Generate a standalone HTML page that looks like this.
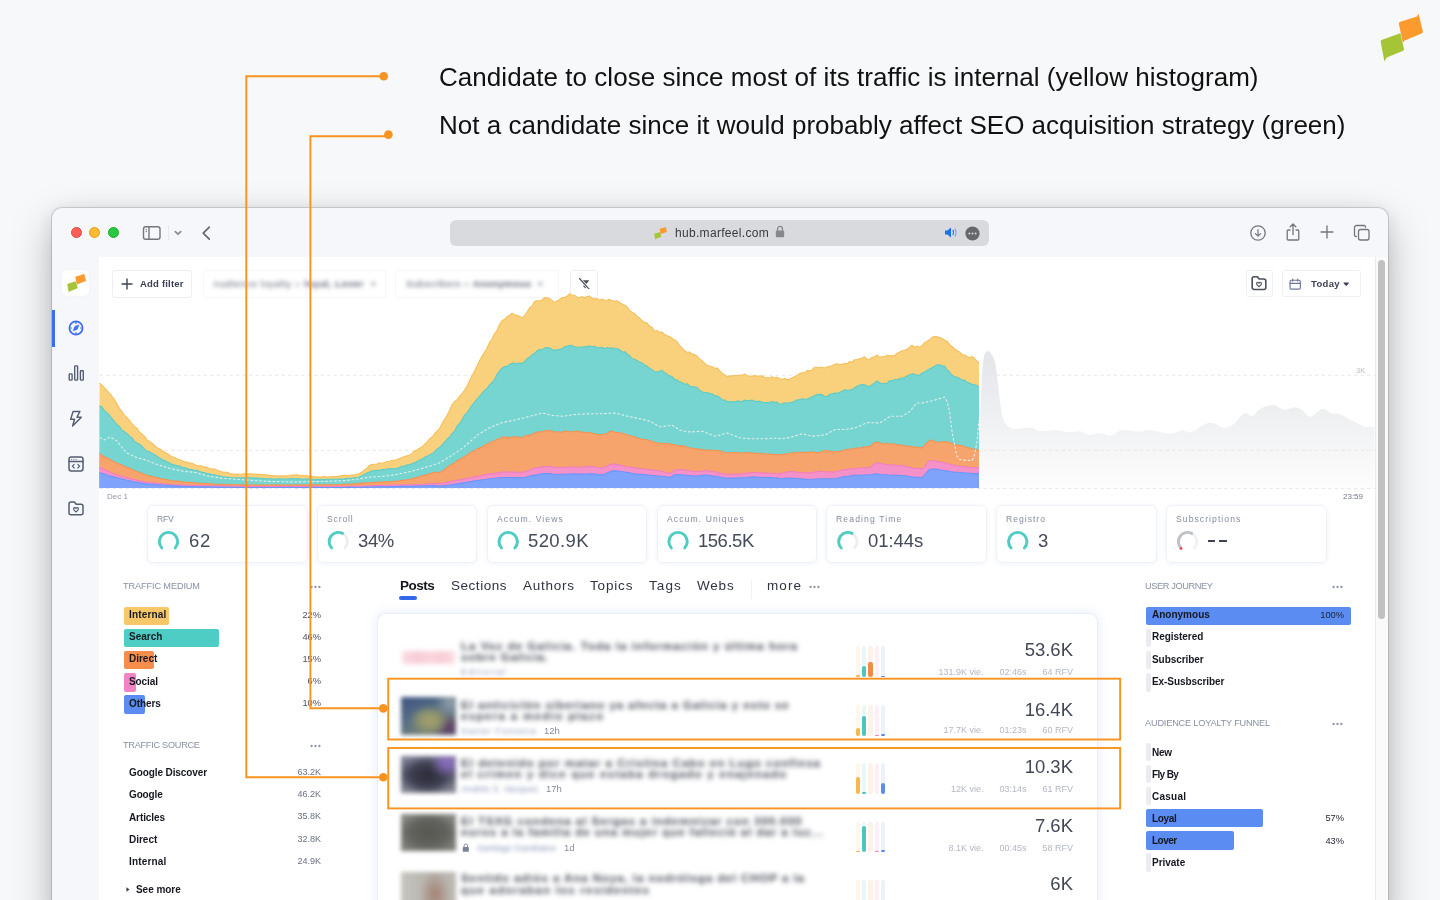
<!DOCTYPE html>
<html><head><meta charset="utf-8"><title>Marfeel</title>
<style>
*{box-sizing:border-box;margin:0;padding:0}
html,body{width:1440px;height:900px;overflow:hidden}
body{background:#f7f8fa;font-family:"Liberation Sans",sans-serif;position:relative;color:#222}
.abs{position:absolute}
.t{position:absolute;white-space:nowrap;line-height:1;will-change:transform}
.h1{font-size:26px;color:#111}
.win{position:absolute;left:52px;top:208px;width:1336px;height:720px;background:#f6f7fb;border-radius:10px 10px 0 0;box-shadow:0 0 0 1px rgba(0,0,0,.13),0 16px 42px rgba(0,0,0,.26),0 2px 16px rgba(0,0,0,.09)}
.content{position:absolute;left:99px;top:257px;width:1276px;height:660px;background:#fff;border-radius:1.5px 0 0 0}
.btn{position:absolute;background:#fff;border:1px solid #eceef2;border-radius:2.5px}
.lbl{font-size:9.2px;color:#8790a4}
.b{font-weight:bold}
.card{position:absolute;top:505px;width:160.5px;height:57.5px;background:#fff;border:1px solid #eff1f8;border-radius:6px;box-shadow:0 1px 5px rgba(120,140,210,.10)}
.kl{position:absolute;left:10px;top:9px;font-size:9px;color:#858ca0;line-height:1;white-space:nowrap}
.kv{position:absolute;left:42px;top:26px;font-size:19px;color:#3c4152;line-height:1;white-space:nowrap}
.bar{position:absolute;border-radius:2px}
.rowl{font-size:10px;font-weight:bold;color:#161820}
.rowv{font-size:9px;color:#5d6475;text-align:right}
.blur{filter:blur(2.6px);color:#434753;font-size:11.5px;font-weight:bold}
.blur2{filter:blur(2.2px);color:#8e9aba;font-size:9px}
.big{font-size:18.5px;color:#434857;text-align:right}
.sub{font-size:9px;color:#b3b7c3}
.obox{position:absolute;border:2px solid #f7931e}
</style></head><body>
<div id="f1" class="t h1" style="left:439px;top:63.6px;;letter-spacing:0.048px">Candidate to close since most of its traffic is internal (yellow histogram)</div><div id="f2" class="t h1" style="left:439px;top:111.8px;;letter-spacing:0.010px">Not a candidate since it would probably affect SEO acquisition strategy (green)</div><svg class="abs" style="left:1370px;top:5px" width="60" height="65" viewBox="0 0 831 900"><path d="M400,262 Q398,240 420,232 L650,160 L672,120 L732,365 Q735,385 715,395 L480,490 L455,522Z" fill="#fb9a2d"/><path d="M148,512 Q145,490 168,482 L420,392 L470,605 Q474,628 452,638 L232,728 L200,782Z" fill="#a6c536"/></svg><div class="win"></div><div class="abs" style="left:70.5px;top:227.3px;width:11px;height:11px;border-radius:50%;background:#fe5f57;border:.5px solid #e2463f"></div><div class="abs" style="left:89.0px;top:227.3px;width:11px;height:11px;border-radius:50%;background:#febc2e;border:.5px solid #dfa023"></div><div class="abs" style="left:107.5px;top:227.3px;width:11px;height:11px;border-radius:50%;background:#28c840;border:.5px solid #1eab30"></div><svg class="abs" style="left:142.2px;top:224.7px" width="20" height="16" viewBox="0 0 20 16" fill="none" stroke="#75777e" stroke-width="1.4"><rect x="1.5" y="1.75" width="16.5" height="12.5" rx="2.2"/><path d="M7,1.75V14.25"/><path d="M3.6,4.6H5M3.6,6.6H5" stroke-width="1"/></svg><div class="abs" style="left:167.5px;top:225px;width:1px;height:15px;background:#e9eaee"></div><svg class="abs" style="left:173px;top:229px" width="10" height="8" viewBox="0 0 10 8" fill="none" stroke="#85878e" stroke-width="1.6" stroke-linecap="round" stroke-linejoin="round"><path d="M2.3,2.6 L5,5.1 L7.7,2.6"/></svg><svg class="abs" style="left:200px;top:224px" width="12" height="18" viewBox="0 0 12 18" fill="none" stroke="#66686f" stroke-width="1.7" stroke-linecap="round" stroke-linejoin="round"><path d="M9.3,3.2 L3.2,9.2 L9.3,15.2"/></svg><div class="abs" style="left:450px;top:220px;width:539px;height:26px;border-radius:6px;background:#d9dadd"></div><svg class="abs" style="left:654px;top:226.5px" width="13" height="13" viewBox="140 150 600 640" preserveAspectRatio="none"><path d="M400,262 Q398,240 420,232 L650,160 L672,120 L732,365 Q735,385 715,395 L480,490 L455,522Z" fill="#fb9a2d"/><path d="M148,512 Q145,490 168,482 L420,392 L470,605 Q474,628 452,638 L232,728 L200,782Z" fill="#a6c536"/></svg><div id="f3" class="t " style="left:674.8px;top:226.8px;font-size:12px;color:#3a3b3f;letter-spacing:0.312px">hub.marfeel.com</div><svg class="abs" style="left:775px;top:225px" width="10" height="13" viewBox="0 0 10 13"><rect x="0.8" y="5.4" width="8.4" height="6.8" rx="1.2" fill="#86888d"/><path d="M2.6,6V3.8a2.4,2.4 0 0 1 4.8,0V6" fill="none" stroke="#86888d" stroke-width="1.3"/></svg><svg class="abs" style="left:944px;top:226px" width="15" height="13" viewBox="0 0 15 13"><path d="M1,4.6h2.4L7,1.6v9.8L3.4,8.4H1z" fill="#1a73e8"/><path d="M9,4.4q1.3,2.1 0,4.2" stroke="#1a73e8" stroke-width="1.2" fill="none" stroke-linecap="round"/><path d="M11,2.9q2.2,3.6 0,7.2" stroke="#6aa5f2" stroke-width="1.1" fill="none" stroke-linecap="round"/></svg><svg class="abs" style="left:964.5px;top:225.5px" width="15" height="15" viewBox="0 0 15 15"><circle cx="7.5" cy="7.5" r="7.1" fill="#66686d"/><circle cx="4.4" cy="7.5" r="1" fill="#d9dadd"/><circle cx="7.5" cy="7.5" r="1" fill="#d9dadd"/><circle cx="10.6" cy="7.5" r="1" fill="#d9dadd"/></svg><svg class="abs" style="left:1249.3px;top:223.6px" width="18" height="18" viewBox="0 0 18 18" fill="none" stroke="#73757c" stroke-width="1.3" stroke-linecap="round" stroke-linejoin="round"><circle cx="9" cy="9" r="7.2"/><path d="M9,5.6v6.4M6.4,9.6l2.6,2.6 2.6,-2.6" stroke-width="1.2"/></svg><svg class="abs" style="left:1284px;top:221.5px" width="18" height="20" viewBox="0 0 18 20" fill="none" stroke="#73757c" stroke-width="1.3" stroke-linecap="round" stroke-linejoin="round"><path d="M6,8H4.2a1,1 0 0 0 -1,1v8a1,1 0 0 0 1,1h9.6a1,1 0 0 0 1,-1V9a1,1 0 0 0 -1,-1H12"/><path d="M9,12.5V2.2M6.2,4.8L9,2l2.8,2.8"/></svg><svg class="abs" style="left:1319px;top:224.4px" width="16" height="16" viewBox="0 0 16 16" fill="none" stroke="#73757c" stroke-width="1.3" stroke-linecap="round" stroke-linejoin="round"><path d="M8,2v12M2,8h12"/></svg><svg class="abs" style="left:1353px;top:223.5px" width="18" height="18" viewBox="0 0 18 18" fill="none" stroke="#73757c" stroke-width="1.3" stroke-linecap="round" stroke-linejoin="round"><rect x="5.5" y="5.5" width="10.5" height="10.5" rx="2"/><path d="M12.5,3.2V3a1.5,1.5 0 0 0 -1.5,-1.5H3.5A2,2 0 0 0 1.5,3.5V11A1.5,1.5 0 0 0 3,12.5h.3"/></svg><div class="content"></div><div class="abs" style="left:1375px;top:257px;width:13px;height:660px;background:#fafafa;border-left:1px solid #ebebeb"></div><div class="abs" style="left:1378px;top:259.6px;width:7px;height:359px;border-radius:3.5px;background:#c1c1c1"></div><div class="abs" style="left:62px;top:270px;width:27px;height:26px;border-radius:5px;background:#fff;box-shadow:0 0 3px rgba(0,0,0,.04)"></div><svg class="abs" style="left:66.6px;top:274px" width="19.2" height="19" viewBox="140 150 600 640" preserveAspectRatio="none"><path d="M400,262 Q398,240 420,232 L650,160 L672,120 L732,365 Q735,385 715,395 L480,490 L455,522Z" fill="#fb9a2d"/><path d="M148,512 Q145,490 168,482 L420,392 L470,605 Q474,628 452,638 L232,728 L200,782Z" fill="#a6c536"/></svg><div class="abs" style="left:52px;top:310px;width:3px;height:37px;background:#3b6cf6"></div><svg class="abs" style="left:67px;top:319.3px" width="18" height="18" viewBox="0 0 18 18" fill="none" stroke="#3b6cf6" stroke-width="1.7" stroke-linecap="round" stroke-linejoin="round"><circle cx="9" cy="9" r="6.6"/><path d="M9,3.2v1.2M9,13.6v1.2M3.2,9h1.2M13.6,9h1.2" stroke-width="1.2"/><path d="M11.7,6.3 L10.2,10.2 L6.3,11.7 L7.8,7.8Z" fill="#3b6cf6" stroke-width=".8"/></svg><svg class="abs" style="left:67px;top:364px" width="18" height="20" viewBox="0 0 18 20" fill="none" stroke="#525c70" stroke-width="1.35" stroke-linejoin="round"><rect x="2.2" y="9.8" width="2.9" height="6.3" rx=".7"/><rect x="7.7" y="1.9" width="2.9" height="14.2" rx=".7"/><rect x="13.4" y="6.7" width="2.9" height="9.4" rx=".7"/></svg><svg class="abs" style="left:67px;top:408.8px" width="18" height="19.4" viewBox="0 0 18 20" fill="none" stroke="#545e73" stroke-width="1.5" stroke-linecap="round" stroke-linejoin="round"><path d="M6,2.5 H13 L10,8.5 H14.5 L5.5,17.5 L7.5,10.5 H3.5Z"/></svg><svg class="abs" style="left:67px;top:454.6px" width="18" height="18" viewBox="0 0 18 18" fill="none" stroke="#545e73" stroke-width="1.5" stroke-linecap="round" stroke-linejoin="round"><rect x="2" y="2" width="14" height="14" rx="2.2"/><path d="M2,6.4H16"/><path d="M7.2,9.4 L5.4,11.2 L7.2,13 M10.8,9.4 L12.6,11.2 L10.8,13" stroke-width="1.2"/><path d="M4.6,4.3h.1M6.8,4.3h.1M9,4.3h.1" stroke-width="1.1"/></svg><svg class="abs" style="left:67px;top:498.8px" width="18" height="18.6" viewBox="0 0 18 18" fill="none" stroke="#545e73" stroke-width="1.5" stroke-linecap="round" stroke-linejoin="round"><path d="M2,5V13.5a2,2 0 0 0 2,2h10a2,2 0 0 0 2,-2V7a2,2 0 0 0 -2,-2H9.2L7.4,2.8H4a2,2 0 0 0 -2,2z"/><path d="M9,12.7 C7.2,11.3 6.6,10.5 6.6,9.7 a1.2,1.2 0 0 1 2.4,-.4 a1.2,1.2 0 0 1 2.4,.4 C11.4,10.5 10.8,11.3 9,12.7Z" stroke-width="1.15"/></svg><div class="btn" style="left:112px;top:270px;width:79.5px;height:27.5px;border-color:#eceef2;border-radius:2.5px"></div><svg class="abs" style="left:121px;top:278px" width="12" height="12" viewBox="0 0 12 12" stroke="#3d4354" stroke-width="1.4" stroke-linecap="round"><path d="M6,1v10M1,6h10"/></svg><div id="f4" class="t " style="left:139.5px;top:278.8px;font-size:9.5px;color:#3a4050;font-weight:bold;letter-spacing:0.200px">Add filter</div><div class="btn" style="left:203px;top:270px;width:183px;height:27.5px;border-color:#f5f6f9"></div><div id="f5" class="t " style="left:212.5px;top:279px;font-size:9.5px;color:#555c6e;filter:blur(2.1px);letter-spacing:0.586px">Audience loyalty = <b>loyal, Lover</b> &nbsp;&#215;</div><div class="btn" style="left:395px;top:270px;width:164px;height:27.5px;border-color:#f5f6f9"></div><div id="f6" class="t " style="left:406px;top:279px;font-size:9.5px;color:#555c6e;filter:blur(2.1px);letter-spacing:0.411px">Subscribers = <b>Anonymous</b> &nbsp;&#215;</div><div class="btn" style="left:570px;top:270px;width:27.5px;height:27.5px;border-color:#eff0f4"></div><svg class="abs" style="left:579px;top:277.6px" width="11.2" height="11.6" viewBox="0 0 11 11.4"><path d="M.8,2.2H10.2L6.9,6.2V10.4L4.5,8.8V6.2Z" fill="#4a4e58"/><path d="M.2,0 L10.2,11.2" stroke="#fff" stroke-width="2.6"/><path d="M.5,.5 L10,10.9" stroke="#4a4e58" stroke-width="1.15" stroke-linecap="round"/></svg><div class="btn" style="left:1245.5px;top:270px;width:27px;height:27px;border-color:#eff0f4"></div><svg class="abs" style="left:1249.5px;top:274.2px" width="18" height="18" viewBox="0 0 18 18" fill="none" stroke="#4a4f5c" stroke-width="1.6" stroke-linecap="round" stroke-linejoin="round"><path d="M2.2,5V13.5a2,2 0 0 0 2,2h9.6a2,2 0 0 0 2,-2V7a2,2 0 0 0 -2,-2H9.2L7.4,2.8H4.2a2,2 0 0 0 -2,2z"/><path d="M9,12.7 C7.2,11.3 6.6,10.5 6.6,9.7 a1.2,1.2 0 0 1 2.4,-.4 a1.2,1.2 0 0 1 2.4,.4 C11.4,10.5 10.8,11.3 9,12.7Z" stroke-width="1.15"/></svg><div class="btn" style="left:1281.5px;top:270px;width:79px;height:27px;border-color:#eff0f4"></div><svg class="abs" style="left:1289.2px;top:277.6px" width="12.4" height="12.4" viewBox="0 0 12 12" fill="none" stroke="#6b7796" stroke-width="1.1" stroke-linecap="round"><rect x="1" y="2.2" width="10" height="8.6" rx="1.4"/><path d="M1,5.2h10M3.6,1v2M8.4,1v2"/></svg><div id="f7" class="t " style="left:1310.6px;top:278.8px;font-size:9.5px;color:#3d4252;font-weight:bold;letter-spacing:0.331px">Today</div><svg class="abs" style="left:1342.6px;top:281.6px" width="6.4" height="4.4" viewBox="0 0 7 5"><path d="M.9,.6h5.2a.5,.5 0 0 1 .4,.8L3.9,4.3a.5,.5 0 0 1 -.8,0L.5,1.4a.5,.5 0 0 1 .4,-.8Z" fill="#3d4252"/></svg><svg class="abs" style="left:0;top:0" width="1440" height="900" viewBox="0 0 1440 900"><defs><linearGradient id="gg" x1="0" y1="350" x2="0" y2="488" gradientUnits="userSpaceOnUse"><stop offset="0" stop-color="#e4e5e8"/><stop offset=".45" stop-color="#eeeff1"/><stop offset="1" stop-color="#fdfdfd"/></linearGradient></defs><path d="M980.0,488.0 L980.0,420.0 C980.2,414.4 980.9,395.0 981.5,385.0 C982.1,375.0 982.8,362.9 983.8,357.5 C984.7,352.1 986.3,351.9 987.5,351.2 C988.7,350.6 990.0,351.9 991.2,353.8 C992.5,355.6 994.0,358.3 995.0,362.5 C996.0,366.7 996.5,372.4 997.5,380.0 C998.5,387.6 1000.0,403.2 1001.2,410.0 C1002.5,416.8 1003.2,419.5 1005.0,422.5 C1006.8,425.5 1008.5,427.9 1012.5,428.8 C1016.5,429.6 1025.6,427.1 1030.0,427.5 C1034.4,427.9 1036.0,430.9 1040.0,431.2 C1044.0,431.6 1050.6,429.9 1055.0,430.0 C1059.4,430.1 1063.5,431.8 1067.5,432.0 C1071.5,432.2 1076.4,430.8 1080.0,431.2 C1083.6,431.7 1087.2,434.7 1090.0,435.0 C1092.8,435.3 1095.9,433.3 1097.5,433.0 C1099.1,432.7 1097.8,432.9 1100.0,433.3 C1102.2,433.7 1107.6,436.1 1111.1,435.6 C1114.7,435.0 1117.6,430.6 1122.2,430.0 C1126.8,429.4 1135.7,431.6 1140.0,431.6 C1144.3,431.6 1144.6,429.7 1148.9,430.0 C1153.2,430.3 1162.8,432.8 1166.7,433.3 C1170.6,433.9 1170.8,433.9 1173.3,433.3 C1175.8,432.8 1179.4,430.2 1182.2,430.0 C1185.1,429.8 1187.2,433.3 1191.1,432.2 C1195.0,431.2 1202.8,424.6 1206.7,423.3 C1210.6,422.0 1212.9,423.3 1215.6,424.0 C1218.2,424.7 1220.5,427.7 1223.3,427.8 C1226.2,427.8 1230.0,426.8 1233.3,424.4 C1236.7,422.1 1241.4,414.7 1244.4,413.3 C1247.5,412.0 1249.7,416.7 1252.2,416.0 C1254.7,415.3 1256.6,410.6 1260.0,408.9 C1263.4,407.1 1269.4,404.9 1273.3,405.1 C1277.2,405.3 1281.1,409.6 1284.4,410.0 C1287.8,410.4 1291.6,407.3 1294.4,407.3 C1297.3,407.3 1299.7,408.5 1302.2,410.0 C1304.7,411.5 1306.8,416.8 1310.0,416.7 C1313.2,416.5 1318.8,409.4 1322.2,408.9 C1325.6,408.4 1328.4,412.6 1331.1,413.3 C1333.8,414.1 1336.0,412.9 1338.9,413.8 C1341.7,414.7 1345.9,417.4 1348.9,418.9 C1351.9,420.4 1355.3,422.1 1357.8,423.3 C1360.3,424.6 1361.8,426.1 1364.4,426.7 C1367.1,427.2 1372.8,426.7 1374.4,426.7 L1374.4,488.0 Z" fill="url(#gg)"/><path d="M99.5,375.2 H1375" stroke="#e7e8ec" stroke-width="1" stroke-dasharray="3.5,3" fill="none"/><path d="M99.5,450.4 H1375" stroke="#e7e8ec" stroke-width="1" stroke-dasharray="3.5,3" fill="none"/><path d="M99.5,488.6 H1375" stroke="#e7e8ec" stroke-width="1" stroke-dasharray="3.5,3" fill="none"/><path d="M99.5,488.0 L99.5,383.1 L102.0,385.2 L104.5,387.8 L107.0,390.7 L109.5,393.3 L112.0,396.2 L114.5,399.9 L117.0,403.9 L119.5,408.4 L122.0,411.8 L124.5,415.3 L127.0,417.5 L129.5,420.4 L132.0,423.9 L134.5,426.4 L137.0,428.2 L139.5,432.3 L142.0,434.0 L144.5,436.4 L147.0,440.0 L149.5,441.5 L152.0,443.2 L154.5,445.5 L157.0,447.7 L159.5,448.7 L162.0,450.5 L164.5,451.9 L167.0,453.4 L169.5,455.0 L172.0,456.9 L174.5,457.2 L177.0,459.1 L179.5,459.8 L182.0,460.7 L184.5,461.7 L187.0,462.1 L189.5,462.9 L192.0,463.3 L194.5,464.6 L197.0,465.7 L199.5,465.7 L202.0,466.1 L204.5,466.9 L207.0,467.4 L209.5,468.6 L212.0,469.0 L214.5,469.1 L217.0,470.1 L219.5,470.9 L222.0,471.7 L224.5,472.2 L227.0,472.3 L229.5,473.2 L232.0,473.7 L234.5,474.1 L237.0,474.4 L239.5,474.3 L242.0,474.1 L244.5,473.8 L247.0,473.9 L249.5,473.7 L252.0,474.1 L254.5,474.0 L257.0,474.4 L259.5,474.3 L262.0,474.6 L264.5,474.8 L267.0,474.9 L269.5,475.6 L272.0,475.6 L274.5,475.8 L277.0,475.8 L279.5,476.1 L282.0,475.9 L284.5,476.1 L287.0,475.7 L289.5,475.5 L292.0,475.1 L294.5,475.0 L297.0,474.7 L299.5,475.6 L302.0,475.3 L304.5,475.6 L307.0,476.1 L309.5,476.1 L312.0,476.2 L314.5,476.5 L317.0,477.1 L319.5,477.1 L322.0,476.9 L324.5,476.6 L327.0,477.1 L329.5,476.9 L332.0,476.5 L334.5,476.6 L337.0,476.4 L339.5,476.1 L342.0,475.6 L344.5,475.3 L347.0,475.6 L349.5,475.2 L352.0,475.1 L354.5,475.0 L357.0,474.3 L359.5,473.5 L362.0,472.1 L364.5,469.9 L367.0,468.2 L369.5,465.3 L372.0,464.5 L374.5,464.3 L377.0,464.1 L379.5,462.8 L382.0,463.2 L384.5,462.5 L387.0,461.8 L389.5,461.3 L392.0,460.4 L394.5,460.3 L397.0,459.7 L399.5,458.4 L402.0,457.8 L404.5,456.6 L407.0,455.9 L409.5,455.1 L412.0,453.6 L414.5,450.9 L417.0,450.0 L419.5,448.2 L422.0,447.1 L424.5,444.4 L427.0,442.2 L429.5,439.0 L432.0,437.3 L434.5,433.7 L437.0,431.1 L439.5,428.8 L442.0,423.5 L444.5,419.2 L447.0,415.6 L449.5,410.6 L452.0,405.1 L454.5,401.7 L457.0,399.7 L459.5,396.2 L462.0,393.9 L464.5,390.3 L467.0,386.3 L469.5,380.9 L472.0,375.8 L474.5,371.3 L477.0,366.1 L479.5,360.7 L482.0,356.2 L484.5,352.2 L487.0,348.3 L489.5,342.4 L492.0,339.4 L494.5,333.5 L497.0,330.7 L499.5,324.5 L502.0,320.7 L504.5,319.3 L507.0,316.8 L509.5,315.2 L512.0,313.3 L514.5,314.7 L517.0,315.2 L519.5,316.3 L522.0,318.2 L524.5,315.5 L527.0,312.0 L529.5,308.0 L532.0,306.1 L534.5,301.5 L537.0,300.8 L539.5,300.7 L542.0,300.0 L544.5,297.5 L547.0,297.9 L549.5,298.5 L552.0,300.4 L554.5,302.4 L557.0,301.1 L559.5,299.5 L562.0,297.6 L564.5,297.5 L567.0,296.3 L569.5,293.9 L572.0,295.0 L574.5,295.2 L577.0,296.9 L579.5,297.8 L582.0,296.5 L584.5,297.7 L587.0,296.6 L589.5,296.1 L592.0,298.1 L594.5,298.9 L597.0,298.6 L599.5,300.2 L602.0,298.9 L604.5,300.2 L607.0,300.0 L609.5,299.4 L612.0,300.4 L614.5,301.3 L617.0,300.7 L619.5,302.6 L622.0,304.0 L624.5,304.9 L627.0,306.9 L629.5,310.4 L632.0,312.3 L634.5,313.6 L637.0,316.4 L639.5,317.8 L642.0,320.8 L644.5,322.3 L647.0,322.9 L649.5,325.9 L652.0,327.3 L654.5,331.6 L657.0,330.6 L659.5,332.4 L662.0,332.1 L664.5,334.2 L667.0,335.8 L669.5,336.4 L672.0,338.1 L674.5,340.0 L677.0,341.6 L679.5,345.4 L682.0,348.0 L684.5,350.7 L687.0,352.3 L689.5,352.0 L692.0,354.1 L694.5,354.6 L697.0,356.0 L699.5,359.1 L702.0,360.5 L704.5,363.2 L707.0,365.3 L709.5,366.0 L712.0,366.7 L714.5,368.3 L717.0,368.0 L719.5,370.6 L722.0,373.1 L724.5,374.6 L727.0,376.6 L729.5,375.9 L732.0,376.1 L734.5,375.5 L737.0,375.5 L739.5,375.3 L742.0,375.4 L744.5,373.9 L747.0,375.5 L749.5,376.3 L752.0,376.2 L754.5,375.5 L757.0,376.2 L759.5,376.1 L762.0,375.8 L764.5,377.2 L767.0,377.7 L769.5,377.7 L772.0,376.8 L774.5,378.2 L777.0,377.1 L779.5,378.6 L782.0,379.6 L784.5,378.6 L787.0,379.5 L789.5,379.4 L792.0,377.7 L794.5,376.8 L797.0,375.6 L799.5,373.6 L802.0,372.8 L804.5,372.8 L807.0,370.6 L809.5,370.8 L812.0,369.9 L814.5,367.3 L817.0,367.3 L819.5,367.7 L822.0,367.2 L824.5,368.0 L827.0,366.9 L829.5,366.6 L832.0,365.7 L834.5,364.3 L837.0,363.8 L839.5,364.7 L842.0,364.2 L844.5,363.4 L847.0,363.8 L849.5,361.6 L852.0,362.1 L854.5,359.7 L857.0,359.7 L859.5,358.7 L862.0,357.9 L864.5,356.7 L867.0,359.4 L869.5,359.6 L872.0,357.2 L874.5,356.9 L877.0,355.0 L879.5,357.3 L882.0,356.8 L884.5,356.3 L887.0,355.4 L889.5,355.8 L892.0,355.9 L894.5,355.6 L897.0,353.3 L899.5,352.3 L902.0,350.7 L904.5,350.6 L907.0,349.2 L909.5,347.4 L912.0,345.2 L914.5,347.1 L917.0,346.3 L919.5,347.2 L922.0,345.8 L924.5,342.7 L927.0,341.3 L929.5,340.0 L932.0,337.3 L934.5,336.4 L937.0,336.7 L939.5,337.5 L942.0,338.4 L944.5,340.0 L947.0,341.2 L949.5,344.4 L952.0,346.5 L954.5,349.0 L957.0,350.5 L959.5,351.9 L962.0,354.5 L964.5,355.1 L967.0,356.4 L969.5,357.7 L972.0,356.6 L974.5,358.3 L977.0,361.2 L979.0,363.4 L979.0,488.0 Z" fill="#f9d07c"/><path d="M99.5,383.1 L102.0,385.2 L104.5,387.8 L107.0,390.7 L109.5,393.3 L112.0,396.2 L114.5,399.9 L117.0,403.9 L119.5,408.4 L122.0,411.8 L124.5,415.3 L127.0,417.5 L129.5,420.4 L132.0,423.9 L134.5,426.4 L137.0,428.2 L139.5,432.3 L142.0,434.0 L144.5,436.4 L147.0,440.0 L149.5,441.5 L152.0,443.2 L154.5,445.5 L157.0,447.7 L159.5,448.7 L162.0,450.5 L164.5,451.9 L167.0,453.4 L169.5,455.0 L172.0,456.9 L174.5,457.2 L177.0,459.1 L179.5,459.8 L182.0,460.7 L184.5,461.7 L187.0,462.1 L189.5,462.9 L192.0,463.3 L194.5,464.6 L197.0,465.7 L199.5,465.7 L202.0,466.1 L204.5,466.9 L207.0,467.4 L209.5,468.6 L212.0,469.0 L214.5,469.1 L217.0,470.1 L219.5,470.9 L222.0,471.7 L224.5,472.2 L227.0,472.3 L229.5,473.2 L232.0,473.7 L234.5,474.1 L237.0,474.4 L239.5,474.3 L242.0,474.1 L244.5,473.8 L247.0,473.9 L249.5,473.7 L252.0,474.1 L254.5,474.0 L257.0,474.4 L259.5,474.3 L262.0,474.6 L264.5,474.8 L267.0,474.9 L269.5,475.6 L272.0,475.6 L274.5,475.8 L277.0,475.8 L279.5,476.1 L282.0,475.9 L284.5,476.1 L287.0,475.7 L289.5,475.5 L292.0,475.1 L294.5,475.0 L297.0,474.7 L299.5,475.6 L302.0,475.3 L304.5,475.6 L307.0,476.1 L309.5,476.1 L312.0,476.2 L314.5,476.5 L317.0,477.1 L319.5,477.1 L322.0,476.9 L324.5,476.6 L327.0,477.1 L329.5,476.9 L332.0,476.5 L334.5,476.6 L337.0,476.4 L339.5,476.1 L342.0,475.6 L344.5,475.3 L347.0,475.6 L349.5,475.2 L352.0,475.1 L354.5,475.0 L357.0,474.3 L359.5,473.5 L362.0,472.1 L364.5,469.9 L367.0,468.2 L369.5,465.3 L372.0,464.5 L374.5,464.3 L377.0,464.1 L379.5,462.8 L382.0,463.2 L384.5,462.5 L387.0,461.8 L389.5,461.3 L392.0,460.4 L394.5,460.3 L397.0,459.7 L399.5,458.4 L402.0,457.8 L404.5,456.6 L407.0,455.9 L409.5,455.1 L412.0,453.6 L414.5,450.9 L417.0,450.0 L419.5,448.2 L422.0,447.1 L424.5,444.4 L427.0,442.2 L429.5,439.0 L432.0,437.3 L434.5,433.7 L437.0,431.1 L439.5,428.8 L442.0,423.5 L444.5,419.2 L447.0,415.6 L449.5,410.6 L452.0,405.1 L454.5,401.7 L457.0,399.7 L459.5,396.2 L462.0,393.9 L464.5,390.3 L467.0,386.3 L469.5,380.9 L472.0,375.8 L474.5,371.3 L477.0,366.1 L479.5,360.7 L482.0,356.2 L484.5,352.2 L487.0,348.3 L489.5,342.4 L492.0,339.4 L494.5,333.5 L497.0,330.7 L499.5,324.5 L502.0,320.7 L504.5,319.3 L507.0,316.8 L509.5,315.2 L512.0,313.3 L514.5,314.7 L517.0,315.2 L519.5,316.3 L522.0,318.2 L524.5,315.5 L527.0,312.0 L529.5,308.0 L532.0,306.1 L534.5,301.5 L537.0,300.8 L539.5,300.7 L542.0,300.0 L544.5,297.5 L547.0,297.9 L549.5,298.5 L552.0,300.4 L554.5,302.4 L557.0,301.1 L559.5,299.5 L562.0,297.6 L564.5,297.5 L567.0,296.3 L569.5,293.9 L572.0,295.0 L574.5,295.2 L577.0,296.9 L579.5,297.8 L582.0,296.5 L584.5,297.7 L587.0,296.6 L589.5,296.1 L592.0,298.1 L594.5,298.9 L597.0,298.6 L599.5,300.2 L602.0,298.9 L604.5,300.2 L607.0,300.0 L609.5,299.4 L612.0,300.4 L614.5,301.3 L617.0,300.7 L619.5,302.6 L622.0,304.0 L624.5,304.9 L627.0,306.9 L629.5,310.4 L632.0,312.3 L634.5,313.6 L637.0,316.4 L639.5,317.8 L642.0,320.8 L644.5,322.3 L647.0,322.9 L649.5,325.9 L652.0,327.3 L654.5,331.6 L657.0,330.6 L659.5,332.4 L662.0,332.1 L664.5,334.2 L667.0,335.8 L669.5,336.4 L672.0,338.1 L674.5,340.0 L677.0,341.6 L679.5,345.4 L682.0,348.0 L684.5,350.7 L687.0,352.3 L689.5,352.0 L692.0,354.1 L694.5,354.6 L697.0,356.0 L699.5,359.1 L702.0,360.5 L704.5,363.2 L707.0,365.3 L709.5,366.0 L712.0,366.7 L714.5,368.3 L717.0,368.0 L719.5,370.6 L722.0,373.1 L724.5,374.6 L727.0,376.6 L729.5,375.9 L732.0,376.1 L734.5,375.5 L737.0,375.5 L739.5,375.3 L742.0,375.4 L744.5,373.9 L747.0,375.5 L749.5,376.3 L752.0,376.2 L754.5,375.5 L757.0,376.2 L759.5,376.1 L762.0,375.8 L764.5,377.2 L767.0,377.7 L769.5,377.7 L772.0,376.8 L774.5,378.2 L777.0,377.1 L779.5,378.6 L782.0,379.6 L784.5,378.6 L787.0,379.5 L789.5,379.4 L792.0,377.7 L794.5,376.8 L797.0,375.6 L799.5,373.6 L802.0,372.8 L804.5,372.8 L807.0,370.6 L809.5,370.8 L812.0,369.9 L814.5,367.3 L817.0,367.3 L819.5,367.7 L822.0,367.2 L824.5,368.0 L827.0,366.9 L829.5,366.6 L832.0,365.7 L834.5,364.3 L837.0,363.8 L839.5,364.7 L842.0,364.2 L844.5,363.4 L847.0,363.8 L849.5,361.6 L852.0,362.1 L854.5,359.7 L857.0,359.7 L859.5,358.7 L862.0,357.9 L864.5,356.7 L867.0,359.4 L869.5,359.6 L872.0,357.2 L874.5,356.9 L877.0,355.0 L879.5,357.3 L882.0,356.8 L884.5,356.3 L887.0,355.4 L889.5,355.8 L892.0,355.9 L894.5,355.6 L897.0,353.3 L899.5,352.3 L902.0,350.7 L904.5,350.6 L907.0,349.2 L909.5,347.4 L912.0,345.2 L914.5,347.1 L917.0,346.3 L919.5,347.2 L922.0,345.8 L924.5,342.7 L927.0,341.3 L929.5,340.0 L932.0,337.3 L934.5,336.4 L937.0,336.7 L939.5,337.5 L942.0,338.4 L944.5,340.0 L947.0,341.2 L949.5,344.4 L952.0,346.5 L954.5,349.0 L957.0,350.5 L959.5,351.9 L962.0,354.5 L964.5,355.1 L967.0,356.4 L969.5,357.7 L972.0,356.6 L974.5,358.3 L977.0,361.2 L979.0,363.4" fill="none" stroke="#f5c05c" stroke-width="1.1" stroke-linejoin="round"/><path d="M99.5,488.0 L99.5,405.7 L102.0,407.3 L104.5,410.6 L107.0,412.9 L109.5,415.2 L112.0,418.7 L114.5,421.7 L117.0,424.8 L119.5,426.5 L122.0,430.2 L124.5,431.7 L127.0,433.6 L129.5,436.1 L132.0,437.9 L134.5,441.5 L137.0,442.9 L139.5,444.3 L142.0,446.3 L144.5,449.2 L147.0,451.3 L149.5,451.8 L152.0,453.6 L154.5,454.8 L157.0,456.2 L159.5,458.1 L162.0,459.5 L164.5,460.4 L167.0,461.8 L169.5,463.1 L172.0,464.4 L174.5,465.1 L177.0,465.6 L179.5,466.0 L182.0,467.3 L184.5,467.5 L187.0,468.6 L189.5,469.2 L192.0,469.5 L194.5,470.5 L197.0,470.4 L199.5,471.3 L202.0,472.4 L204.5,472.7 L207.0,473.6 L209.5,473.9 L212.0,474.5 L214.5,474.7 L217.0,475.6 L219.5,475.8 L222.0,476.7 L224.5,476.9 L227.0,477.4 L229.5,477.4 L232.0,477.8 L234.5,477.9 L237.0,477.8 L239.5,478.0 L242.0,477.5 L244.5,477.7 L247.0,477.8 L249.5,477.9 L252.0,477.8 L254.5,478.1 L257.0,478.0 L259.5,478.3 L262.0,478.6 L264.5,478.6 L267.0,478.7 L269.5,478.7 L272.0,478.9 L274.5,479.0 L277.0,479.0 L279.5,478.7 L282.0,478.9 L284.5,479.0 L287.0,479.0 L289.5,478.8 L292.0,478.6 L294.5,478.7 L297.0,478.9 L299.5,478.7 L302.0,479.2 L304.5,479.0 L307.0,478.9 L309.5,479.0 L312.0,479.0 L314.5,479.5 L317.0,479.4 L319.5,479.5 L322.0,479.4 L324.5,479.5 L327.0,479.4 L329.5,479.3 L332.0,479.2 L334.5,479.0 L337.0,479.3 L339.5,479.0 L342.0,479.1 L344.5,478.9 L347.0,478.4 L349.5,478.4 L352.0,478.4 L354.5,477.7 L357.0,477.7 L359.5,476.8 L362.0,475.8 L364.5,474.3 L367.0,473.0 L369.5,472.0 L372.0,470.8 L374.5,470.8 L377.0,470.4 L379.5,470.4 L382.0,469.4 L384.5,469.7 L387.0,469.0 L389.5,468.8 L392.0,468.7 L394.5,468.5 L397.0,468.2 L399.5,467.6 L402.0,466.3 L404.5,466.3 L407.0,464.9 L409.5,464.5 L412.0,463.8 L414.5,462.8 L417.0,461.6 L419.5,460.1 L422.0,459.4 L424.5,457.3 L427.0,456.3 L429.5,455.1 L432.0,453.6 L434.5,451.9 L437.0,449.2 L439.5,447.4 L442.0,445.1 L444.5,442.2 L447.0,439.3 L449.5,437.3 L452.0,433.6 L454.5,431.5 L457.0,426.2 L459.5,423.6 L462.0,420.1 L464.5,415.1 L467.0,412.8 L469.5,409.0 L472.0,405.2 L474.5,402.3 L477.0,399.0 L479.5,396.3 L482.0,393.4 L484.5,390.5 L487.0,388.7 L489.5,384.9 L492.0,382.7 L494.5,379.5 L497.0,374.5 L499.5,370.8 L502.0,368.2 L504.5,366.6 L507.0,366.5 L509.5,364.5 L512.0,363.3 L514.5,363.4 L517.0,363.7 L519.5,362.9 L522.0,363.6 L524.5,361.3 L527.0,359.0 L529.5,357.3 L532.0,354.8 L534.5,353.6 L537.0,351.0 L539.5,349.6 L542.0,349.6 L544.5,348.1 L547.0,347.5 L549.5,348.0 L552.0,349.4 L554.5,350.3 L557.0,349.7 L559.5,349.4 L562.0,348.9 L564.5,346.9 L567.0,346.2 L569.5,345.4 L572.0,345.5 L574.5,346.9 L577.0,347.3 L579.5,347.3 L582.0,347.1 L584.5,346.8 L587.0,346.6 L589.5,345.9 L592.0,346.8 L594.5,346.3 L597.0,347.6 L599.5,347.8 L602.0,347.3 L604.5,348.7 L607.0,347.5 L609.5,348.3 L612.0,347.9 L614.5,348.5 L617.0,348.7 L619.5,349.5 L622.0,352.0 L624.5,351.8 L627.0,353.8 L629.5,355.6 L632.0,358.5 L634.5,359.3 L637.0,360.6 L639.5,361.9 L642.0,362.9 L644.5,365.1 L647.0,366.1 L649.5,368.5 L652.0,369.4 L654.5,371.7 L657.0,372.0 L659.5,371.2 L662.0,370.4 L664.5,372.5 L667.0,374.1 L669.5,375.9 L672.0,376.5 L674.5,379.3 L677.0,380.0 L679.5,381.7 L682.0,382.6 L684.5,384.2 L687.0,383.7 L689.5,386.0 L692.0,386.9 L694.5,386.7 L697.0,387.6 L699.5,390.2 L702.0,391.7 L704.5,392.8 L707.0,392.6 L709.5,393.6 L712.0,393.7 L714.5,395.7 L717.0,395.8 L719.5,397.4 L722.0,399.7 L724.5,400.0 L727.0,401.4 L729.5,402.1 L732.0,401.6 L734.5,402.0 L737.0,400.9 L739.5,401.2 L742.0,401.8 L744.5,400.2 L747.0,400.6 L749.5,400.5 L752.0,400.1 L754.5,401.1 L757.0,401.6 L759.5,401.1 L762.0,402.0 L764.5,402.7 L767.0,402.5 L769.5,402.7 L772.0,401.6 L774.5,402.4 L777.0,402.1 L779.5,404.2 L782.0,404.0 L784.5,402.8 L787.0,403.2 L789.5,402.8 L792.0,402.4 L794.5,401.2 L797.0,399.9 L799.5,399.8 L802.0,398.7 L804.5,399.3 L807.0,399.1 L809.5,398.0 L812.0,396.8 L814.5,395.7 L817.0,394.5 L819.5,394.6 L822.0,394.4 L824.5,396.5 L827.0,396.5 L829.5,394.5 L832.0,393.9 L834.5,393.1 L837.0,393.3 L839.5,392.6 L842.0,391.3 L844.5,389.9 L847.0,390.3 L849.5,390.0 L852.0,389.6 L854.5,388.0 L857.0,386.3 L859.5,385.2 L862.0,384.4 L864.5,384.8 L867.0,386.0 L869.5,386.6 L872.0,384.7 L874.5,382.9 L877.0,381.0 L879.5,382.8 L882.0,383.8 L884.5,383.5 L887.0,383.2 L889.5,380.9 L892.0,380.9 L894.5,379.6 L897.0,379.8 L899.5,378.6 L902.0,378.5 L904.5,377.4 L907.0,376.1 L909.5,374.7 L912.0,373.9 L914.5,374.1 L917.0,375.4 L919.5,375.0 L922.0,373.3 L924.5,372.0 L927.0,370.4 L929.5,369.1 L932.0,367.8 L934.5,366.2 L937.0,364.9 L939.5,364.7 L942.0,365.8 L944.5,366.1 L947.0,369.7 L949.5,372.0 L952.0,375.0 L954.5,376.7 L957.0,377.1 L959.5,378.4 L962.0,380.0 L964.5,380.1 L967.0,382.5 L969.5,383.1 L972.0,384.3 L974.5,384.7 L977.0,385.5 L979.0,387.2 L979.0,488.0 Z" fill="#76d5d0"/><path d="M99.5,405.7 L102.0,407.3 L104.5,410.6 L107.0,412.9 L109.5,415.2 L112.0,418.7 L114.5,421.7 L117.0,424.8 L119.5,426.5 L122.0,430.2 L124.5,431.7 L127.0,433.6 L129.5,436.1 L132.0,437.9 L134.5,441.5 L137.0,442.9 L139.5,444.3 L142.0,446.3 L144.5,449.2 L147.0,451.3 L149.5,451.8 L152.0,453.6 L154.5,454.8 L157.0,456.2 L159.5,458.1 L162.0,459.5 L164.5,460.4 L167.0,461.8 L169.5,463.1 L172.0,464.4 L174.5,465.1 L177.0,465.6 L179.5,466.0 L182.0,467.3 L184.5,467.5 L187.0,468.6 L189.5,469.2 L192.0,469.5 L194.5,470.5 L197.0,470.4 L199.5,471.3 L202.0,472.4 L204.5,472.7 L207.0,473.6 L209.5,473.9 L212.0,474.5 L214.5,474.7 L217.0,475.6 L219.5,475.8 L222.0,476.7 L224.5,476.9 L227.0,477.4 L229.5,477.4 L232.0,477.8 L234.5,477.9 L237.0,477.8 L239.5,478.0 L242.0,477.5 L244.5,477.7 L247.0,477.8 L249.5,477.9 L252.0,477.8 L254.5,478.1 L257.0,478.0 L259.5,478.3 L262.0,478.6 L264.5,478.6 L267.0,478.7 L269.5,478.7 L272.0,478.9 L274.5,479.0 L277.0,479.0 L279.5,478.7 L282.0,478.9 L284.5,479.0 L287.0,479.0 L289.5,478.8 L292.0,478.6 L294.5,478.7 L297.0,478.9 L299.5,478.7 L302.0,479.2 L304.5,479.0 L307.0,478.9 L309.5,479.0 L312.0,479.0 L314.5,479.5 L317.0,479.4 L319.5,479.5 L322.0,479.4 L324.5,479.5 L327.0,479.4 L329.5,479.3 L332.0,479.2 L334.5,479.0 L337.0,479.3 L339.5,479.0 L342.0,479.1 L344.5,478.9 L347.0,478.4 L349.5,478.4 L352.0,478.4 L354.5,477.7 L357.0,477.7 L359.5,476.8 L362.0,475.8 L364.5,474.3 L367.0,473.0 L369.5,472.0 L372.0,470.8 L374.5,470.8 L377.0,470.4 L379.5,470.4 L382.0,469.4 L384.5,469.7 L387.0,469.0 L389.5,468.8 L392.0,468.7 L394.5,468.5 L397.0,468.2 L399.5,467.6 L402.0,466.3 L404.5,466.3 L407.0,464.9 L409.5,464.5 L412.0,463.8 L414.5,462.8 L417.0,461.6 L419.5,460.1 L422.0,459.4 L424.5,457.3 L427.0,456.3 L429.5,455.1 L432.0,453.6 L434.5,451.9 L437.0,449.2 L439.5,447.4 L442.0,445.1 L444.5,442.2 L447.0,439.3 L449.5,437.3 L452.0,433.6 L454.5,431.5 L457.0,426.2 L459.5,423.6 L462.0,420.1 L464.5,415.1 L467.0,412.8 L469.5,409.0 L472.0,405.2 L474.5,402.3 L477.0,399.0 L479.5,396.3 L482.0,393.4 L484.5,390.5 L487.0,388.7 L489.5,384.9 L492.0,382.7 L494.5,379.5 L497.0,374.5 L499.5,370.8 L502.0,368.2 L504.5,366.6 L507.0,366.5 L509.5,364.5 L512.0,363.3 L514.5,363.4 L517.0,363.7 L519.5,362.9 L522.0,363.6 L524.5,361.3 L527.0,359.0 L529.5,357.3 L532.0,354.8 L534.5,353.6 L537.0,351.0 L539.5,349.6 L542.0,349.6 L544.5,348.1 L547.0,347.5 L549.5,348.0 L552.0,349.4 L554.5,350.3 L557.0,349.7 L559.5,349.4 L562.0,348.9 L564.5,346.9 L567.0,346.2 L569.5,345.4 L572.0,345.5 L574.5,346.9 L577.0,347.3 L579.5,347.3 L582.0,347.1 L584.5,346.8 L587.0,346.6 L589.5,345.9 L592.0,346.8 L594.5,346.3 L597.0,347.6 L599.5,347.8 L602.0,347.3 L604.5,348.7 L607.0,347.5 L609.5,348.3 L612.0,347.9 L614.5,348.5 L617.0,348.7 L619.5,349.5 L622.0,352.0 L624.5,351.8 L627.0,353.8 L629.5,355.6 L632.0,358.5 L634.5,359.3 L637.0,360.6 L639.5,361.9 L642.0,362.9 L644.5,365.1 L647.0,366.1 L649.5,368.5 L652.0,369.4 L654.5,371.7 L657.0,372.0 L659.5,371.2 L662.0,370.4 L664.5,372.5 L667.0,374.1 L669.5,375.9 L672.0,376.5 L674.5,379.3 L677.0,380.0 L679.5,381.7 L682.0,382.6 L684.5,384.2 L687.0,383.7 L689.5,386.0 L692.0,386.9 L694.5,386.7 L697.0,387.6 L699.5,390.2 L702.0,391.7 L704.5,392.8 L707.0,392.6 L709.5,393.6 L712.0,393.7 L714.5,395.7 L717.0,395.8 L719.5,397.4 L722.0,399.7 L724.5,400.0 L727.0,401.4 L729.5,402.1 L732.0,401.6 L734.5,402.0 L737.0,400.9 L739.5,401.2 L742.0,401.8 L744.5,400.2 L747.0,400.6 L749.5,400.5 L752.0,400.1 L754.5,401.1 L757.0,401.6 L759.5,401.1 L762.0,402.0 L764.5,402.7 L767.0,402.5 L769.5,402.7 L772.0,401.6 L774.5,402.4 L777.0,402.1 L779.5,404.2 L782.0,404.0 L784.5,402.8 L787.0,403.2 L789.5,402.8 L792.0,402.4 L794.5,401.2 L797.0,399.9 L799.5,399.8 L802.0,398.7 L804.5,399.3 L807.0,399.1 L809.5,398.0 L812.0,396.8 L814.5,395.7 L817.0,394.5 L819.5,394.6 L822.0,394.4 L824.5,396.5 L827.0,396.5 L829.5,394.5 L832.0,393.9 L834.5,393.1 L837.0,393.3 L839.5,392.6 L842.0,391.3 L844.5,389.9 L847.0,390.3 L849.5,390.0 L852.0,389.6 L854.5,388.0 L857.0,386.3 L859.5,385.2 L862.0,384.4 L864.5,384.8 L867.0,386.0 L869.5,386.6 L872.0,384.7 L874.5,382.9 L877.0,381.0 L879.5,382.8 L882.0,383.8 L884.5,383.5 L887.0,383.2 L889.5,380.9 L892.0,380.9 L894.5,379.6 L897.0,379.8 L899.5,378.6 L902.0,378.5 L904.5,377.4 L907.0,376.1 L909.5,374.7 L912.0,373.9 L914.5,374.1 L917.0,375.4 L919.5,375.0 L922.0,373.3 L924.5,372.0 L927.0,370.4 L929.5,369.1 L932.0,367.8 L934.5,366.2 L937.0,364.9 L939.5,364.7 L942.0,365.8 L944.5,366.1 L947.0,369.7 L949.5,372.0 L952.0,375.0 L954.5,376.7 L957.0,377.1 L959.5,378.4 L962.0,380.0 L964.5,380.1 L967.0,382.5 L969.5,383.1 L972.0,384.3 L974.5,384.7 L977.0,385.5 L979.0,387.2" fill="none" stroke="#5ecbc5" stroke-width="1.1" stroke-linejoin="round"/><path d="M99.5,488.0 L99.5,453.5 L102.0,455.4 L104.5,456.7 L107.0,458.2 L109.5,458.9 L112.0,460.8 L114.5,462.1 L117.0,462.9 L119.5,464.3 L122.0,465.1 L124.5,466.5 L127.0,467.4 L129.5,468.1 L132.0,469.6 L134.5,470.7 L137.0,471.5 L139.5,472.6 L142.0,473.3 L144.5,474.5 L147.0,475.3 L149.5,475.7 L152.0,476.6 L154.5,477.0 L157.0,477.5 L159.5,478.2 L162.0,478.9 L164.5,479.2 L167.0,479.6 L169.5,480.2 L172.0,480.8 L174.5,481.0 L177.0,481.1 L179.5,481.4 L182.0,481.8 L184.5,482.1 L187.0,482.2 L189.5,482.4 L192.0,482.6 L194.5,482.9 L197.0,483.1 L199.5,483.3 L202.0,483.4 L204.5,483.6 L207.0,483.6 L209.5,483.7 L212.0,483.9 L214.5,484.2 L217.0,484.3 L219.5,484.4 L222.0,484.4 L224.5,484.6 L227.0,484.6 L229.5,484.7 L232.0,484.6 L234.5,484.7 L237.0,484.7 L239.5,484.8 L242.0,484.8 L244.5,485.0 L247.0,484.9 L249.5,485.0 L252.0,484.9 L254.5,485.0 L257.0,485.1 L259.5,485.1 L262.0,485.1 L264.5,485.1 L267.0,485.0 L269.5,485.0 L272.0,484.9 L274.5,485.0 L277.0,484.9 L279.5,484.9 L282.0,485.1 L284.5,485.1 L287.0,485.0 L289.5,485.1 L292.0,484.9 L294.5,485.0 L297.0,485.1 L299.5,485.0 L302.0,484.9 L304.5,484.9 L307.0,484.9 L309.5,485.0 L312.0,484.8 L314.5,484.9 L317.0,484.9 L319.5,484.8 L322.0,484.7 L324.5,484.7 L327.0,484.6 L329.5,484.7 L332.0,484.8 L334.5,484.7 L337.0,484.5 L339.5,484.5 L342.0,484.6 L344.5,484.4 L347.0,484.3 L349.5,484.1 L352.0,484.1 L354.5,483.8 L357.0,483.7 L359.5,483.4 L362.0,483.1 L364.5,483.1 L367.0,482.8 L369.5,482.7 L372.0,482.6 L374.5,482.4 L377.0,482.2 L379.5,482.0 L382.0,482.0 L384.5,481.8 L387.0,481.7 L389.5,481.6 L392.0,481.5 L394.5,481.4 L397.0,481.0 L399.5,480.8 L402.0,480.4 L404.5,480.1 L407.0,479.7 L409.5,479.2 L412.0,478.8 L414.5,478.0 L417.0,477.2 L419.5,476.7 L422.0,475.9 L424.5,475.1 L427.0,474.7 L429.5,473.7 L432.0,473.1 L434.5,472.3 L437.0,472.3 L439.5,472.7 L442.0,471.3 L444.5,469.6 L447.0,467.5 L449.5,465.6 L452.0,464.2 L454.5,462.9 L457.0,460.8 L459.5,459.6 L462.0,457.8 L464.5,456.9 L467.0,454.9 L469.5,453.1 L472.0,451.6 L474.5,450.9 L477.0,448.8 L479.5,448.1 L482.0,447.0 L484.5,445.1 L487.0,444.1 L489.5,443.1 L492.0,441.2 L494.5,441.2 L497.0,439.3 L499.5,438.7 L502.0,437.4 L504.5,436.8 L507.0,437.6 L509.5,437.4 L512.0,437.2 L514.5,436.5 L517.0,437.3 L519.5,437.1 L522.0,437.9 L524.5,436.3 L527.0,435.3 L529.5,435.4 L532.0,434.3 L534.5,433.2 L537.0,432.1 L539.5,431.9 L542.0,431.9 L544.5,431.1 L547.0,430.4 L549.5,430.9 L552.0,431.0 L554.5,432.0 L557.0,432.0 L559.5,431.9 L562.0,432.2 L564.5,431.2 L567.0,431.1 L569.5,431.9 L572.0,431.8 L574.5,431.2 L577.0,431.2 L579.5,431.4 L582.0,432.6 L584.5,432.1 L587.0,432.7 L589.5,432.5 L592.0,433.3 L594.5,433.7 L597.0,434.2 L599.5,434.6 L602.0,434.5 L604.5,434.3 L607.0,433.6 L609.5,431.6 L612.0,431.0 L614.5,432.2 L617.0,432.5 L619.5,432.4 L622.0,433.6 L624.5,433.8 L627.0,435.1 L629.5,435.2 L632.0,436.3 L634.5,436.8 L637.0,438.1 L639.5,438.2 L642.0,439.3 L644.5,439.6 L647.0,439.6 L649.5,440.7 L652.0,441.0 L654.5,442.3 L657.0,442.8 L659.5,443.2 L662.0,443.3 L664.5,443.7 L667.0,443.4 L669.5,443.7 L672.0,444.8 L674.5,444.6 L677.0,445.5 L679.5,446.0 L682.0,445.6 L684.5,446.1 L687.0,447.2 L689.5,447.8 L692.0,448.3 L694.5,449.1 L697.0,448.6 L699.5,449.4 L702.0,449.4 L704.5,450.2 L707.0,449.8 L709.5,450.3 L712.0,450.2 L714.5,450.3 L717.0,450.8 L719.5,450.5 L722.0,451.8 L724.5,452.2 L727.0,452.5 L729.5,452.7 L732.0,452.7 L734.5,452.6 L737.0,452.6 L739.5,452.7 L742.0,453.0 L744.5,453.0 L747.0,452.4 L749.5,452.9 L752.0,453.2 L754.5,453.0 L757.0,453.4 L759.5,453.7 L762.0,453.2 L764.5,453.7 L767.0,454.0 L769.5,454.1 L772.0,454.4 L774.5,454.5 L777.0,454.6 L779.5,454.8 L782.0,454.4 L784.5,454.2 L787.0,453.9 L789.5,453.2 L792.0,452.8 L794.5,452.7 L797.0,452.6 L799.5,452.3 L802.0,452.6 L804.5,452.4 L807.0,452.5 L809.5,452.0 L812.0,451.7 L814.5,452.5 L817.0,452.5 L819.5,452.6 L822.0,451.7 L824.5,450.6 L827.0,450.8 L829.5,451.1 L832.0,451.4 L834.5,451.5 L837.0,451.7 L839.5,451.4 L842.0,450.7 L844.5,449.9 L847.0,449.5 L849.5,449.0 L852.0,449.1 L854.5,448.6 L857.0,447.8 L859.5,448.2 L862.0,447.6 L864.5,446.9 L867.0,447.0 L869.5,446.4 L872.0,445.0 L874.5,442.6 L877.0,442.1 L879.5,442.5 L882.0,444.0 L884.5,443.7 L887.0,443.3 L889.5,444.0 L892.0,444.0 L894.5,443.9 L897.0,445.1 L899.5,444.7 L902.0,445.2 L904.5,446.0 L907.0,445.9 L909.5,446.4 L912.0,447.1 L914.5,446.7 L917.0,447.3 L919.5,447.4 L922.0,448.1 L924.5,445.3 L927.0,442.9 L929.5,440.6 L932.0,440.0 L934.5,441.8 L937.0,442.2 L939.5,442.1 L942.0,441.8 L944.5,441.8 L947.0,441.8 L949.5,442.4 L952.0,443.5 L954.5,444.1 L957.0,444.9 L959.5,445.6 L962.0,445.6 L964.5,446.4 L967.0,447.7 L969.5,447.9 L972.0,448.7 L974.5,449.3 L977.0,450.0 L979.0,450.0 L979.0,488.0 Z" fill="#f7a46c"/><path d="M99.5,453.5 L102.0,455.4 L104.5,456.7 L107.0,458.2 L109.5,458.9 L112.0,460.8 L114.5,462.1 L117.0,462.9 L119.5,464.3 L122.0,465.1 L124.5,466.5 L127.0,467.4 L129.5,468.1 L132.0,469.6 L134.5,470.7 L137.0,471.5 L139.5,472.6 L142.0,473.3 L144.5,474.5 L147.0,475.3 L149.5,475.7 L152.0,476.6 L154.5,477.0 L157.0,477.5 L159.5,478.2 L162.0,478.9 L164.5,479.2 L167.0,479.6 L169.5,480.2 L172.0,480.8 L174.5,481.0 L177.0,481.1 L179.5,481.4 L182.0,481.8 L184.5,482.1 L187.0,482.2 L189.5,482.4 L192.0,482.6 L194.5,482.9 L197.0,483.1 L199.5,483.3 L202.0,483.4 L204.5,483.6 L207.0,483.6 L209.5,483.7 L212.0,483.9 L214.5,484.2 L217.0,484.3 L219.5,484.4 L222.0,484.4 L224.5,484.6 L227.0,484.6 L229.5,484.7 L232.0,484.6 L234.5,484.7 L237.0,484.7 L239.5,484.8 L242.0,484.8 L244.5,485.0 L247.0,484.9 L249.5,485.0 L252.0,484.9 L254.5,485.0 L257.0,485.1 L259.5,485.1 L262.0,485.1 L264.5,485.1 L267.0,485.0 L269.5,485.0 L272.0,484.9 L274.5,485.0 L277.0,484.9 L279.5,484.9 L282.0,485.1 L284.5,485.1 L287.0,485.0 L289.5,485.1 L292.0,484.9 L294.5,485.0 L297.0,485.1 L299.5,485.0 L302.0,484.9 L304.5,484.9 L307.0,484.9 L309.5,485.0 L312.0,484.8 L314.5,484.9 L317.0,484.9 L319.5,484.8 L322.0,484.7 L324.5,484.7 L327.0,484.6 L329.5,484.7 L332.0,484.8 L334.5,484.7 L337.0,484.5 L339.5,484.5 L342.0,484.6 L344.5,484.4 L347.0,484.3 L349.5,484.1 L352.0,484.1 L354.5,483.8 L357.0,483.7 L359.5,483.4 L362.0,483.1 L364.5,483.1 L367.0,482.8 L369.5,482.7 L372.0,482.6 L374.5,482.4 L377.0,482.2 L379.5,482.0 L382.0,482.0 L384.5,481.8 L387.0,481.7 L389.5,481.6 L392.0,481.5 L394.5,481.4 L397.0,481.0 L399.5,480.8 L402.0,480.4 L404.5,480.1 L407.0,479.7 L409.5,479.2 L412.0,478.8 L414.5,478.0 L417.0,477.2 L419.5,476.7 L422.0,475.9 L424.5,475.1 L427.0,474.7 L429.5,473.7 L432.0,473.1 L434.5,472.3 L437.0,472.3 L439.5,472.7 L442.0,471.3 L444.5,469.6 L447.0,467.5 L449.5,465.6 L452.0,464.2 L454.5,462.9 L457.0,460.8 L459.5,459.6 L462.0,457.8 L464.5,456.9 L467.0,454.9 L469.5,453.1 L472.0,451.6 L474.5,450.9 L477.0,448.8 L479.5,448.1 L482.0,447.0 L484.5,445.1 L487.0,444.1 L489.5,443.1 L492.0,441.2 L494.5,441.2 L497.0,439.3 L499.5,438.7 L502.0,437.4 L504.5,436.8 L507.0,437.6 L509.5,437.4 L512.0,437.2 L514.5,436.5 L517.0,437.3 L519.5,437.1 L522.0,437.9 L524.5,436.3 L527.0,435.3 L529.5,435.4 L532.0,434.3 L534.5,433.2 L537.0,432.1 L539.5,431.9 L542.0,431.9 L544.5,431.1 L547.0,430.4 L549.5,430.9 L552.0,431.0 L554.5,432.0 L557.0,432.0 L559.5,431.9 L562.0,432.2 L564.5,431.2 L567.0,431.1 L569.5,431.9 L572.0,431.8 L574.5,431.2 L577.0,431.2 L579.5,431.4 L582.0,432.6 L584.5,432.1 L587.0,432.7 L589.5,432.5 L592.0,433.3 L594.5,433.7 L597.0,434.2 L599.5,434.6 L602.0,434.5 L604.5,434.3 L607.0,433.6 L609.5,431.6 L612.0,431.0 L614.5,432.2 L617.0,432.5 L619.5,432.4 L622.0,433.6 L624.5,433.8 L627.0,435.1 L629.5,435.2 L632.0,436.3 L634.5,436.8 L637.0,438.1 L639.5,438.2 L642.0,439.3 L644.5,439.6 L647.0,439.6 L649.5,440.7 L652.0,441.0 L654.5,442.3 L657.0,442.8 L659.5,443.2 L662.0,443.3 L664.5,443.7 L667.0,443.4 L669.5,443.7 L672.0,444.8 L674.5,444.6 L677.0,445.5 L679.5,446.0 L682.0,445.6 L684.5,446.1 L687.0,447.2 L689.5,447.8 L692.0,448.3 L694.5,449.1 L697.0,448.6 L699.5,449.4 L702.0,449.4 L704.5,450.2 L707.0,449.8 L709.5,450.3 L712.0,450.2 L714.5,450.3 L717.0,450.8 L719.5,450.5 L722.0,451.8 L724.5,452.2 L727.0,452.5 L729.5,452.7 L732.0,452.7 L734.5,452.6 L737.0,452.6 L739.5,452.7 L742.0,453.0 L744.5,453.0 L747.0,452.4 L749.5,452.9 L752.0,453.2 L754.5,453.0 L757.0,453.4 L759.5,453.7 L762.0,453.2 L764.5,453.7 L767.0,454.0 L769.5,454.1 L772.0,454.4 L774.5,454.5 L777.0,454.6 L779.5,454.8 L782.0,454.4 L784.5,454.2 L787.0,453.9 L789.5,453.2 L792.0,452.8 L794.5,452.7 L797.0,452.6 L799.5,452.3 L802.0,452.6 L804.5,452.4 L807.0,452.5 L809.5,452.0 L812.0,451.7 L814.5,452.5 L817.0,452.5 L819.5,452.6 L822.0,451.7 L824.5,450.6 L827.0,450.8 L829.5,451.1 L832.0,451.4 L834.5,451.5 L837.0,451.7 L839.5,451.4 L842.0,450.7 L844.5,449.9 L847.0,449.5 L849.5,449.0 L852.0,449.1 L854.5,448.6 L857.0,447.8 L859.5,448.2 L862.0,447.6 L864.5,446.9 L867.0,447.0 L869.5,446.4 L872.0,445.0 L874.5,442.6 L877.0,442.1 L879.5,442.5 L882.0,444.0 L884.5,443.7 L887.0,443.3 L889.5,444.0 L892.0,444.0 L894.5,443.9 L897.0,445.1 L899.5,444.7 L902.0,445.2 L904.5,446.0 L907.0,445.9 L909.5,446.4 L912.0,447.1 L914.5,446.7 L917.0,447.3 L919.5,447.4 L922.0,448.1 L924.5,445.3 L927.0,442.9 L929.5,440.6 L932.0,440.0 L934.5,441.8 L937.0,442.2 L939.5,442.1 L942.0,441.8 L944.5,441.8 L947.0,441.8 L949.5,442.4 L952.0,443.5 L954.5,444.1 L957.0,444.9 L959.5,445.6 L962.0,445.6 L964.5,446.4 L967.0,447.7 L969.5,447.9 L972.0,448.7 L974.5,449.3 L977.0,450.0 L979.0,450.0" fill="none" stroke="#f59152" stroke-width="1.1" stroke-linejoin="round"/><path d="M99.5,488.0 L99.5,467.4 L102.0,468.6 L104.5,469.5 L107.0,470.8 L109.5,471.8 L112.0,472.9 L114.5,473.9 L117.0,474.7 L119.5,475.7 L122.0,476.5 L124.5,477.0 L127.0,477.7 L129.5,478.4 L132.0,479.1 L134.5,479.8 L137.0,480.3 L139.5,480.8 L142.0,481.2 L144.5,481.8 L147.0,482.1 L149.5,482.3 L152.0,482.6 L154.5,482.9 L157.0,483.0 L159.5,483.4 L162.0,483.7 L164.5,483.8 L167.0,484.2 L169.5,484.4 L172.0,484.6 L174.5,484.7 L177.0,484.7 L179.5,484.9 L182.0,485.0 L184.5,485.1 L187.0,485.2 L189.5,485.2 L192.0,485.3 L194.5,485.5 L197.0,485.5 L199.5,485.6 L202.0,485.5 L204.5,485.6 L207.0,485.7 L209.5,485.7 L212.0,485.8 L214.5,485.9 L217.0,485.8 L219.5,485.9 L222.0,486.1 L224.5,486.1 L227.0,486.2 L229.5,486.1 L232.0,486.2 L234.5,486.3 L237.0,486.3 L239.5,486.4 L242.0,486.4 L244.5,486.5 L247.0,486.5 L249.5,486.5 L252.0,486.5 L254.5,486.5 L257.0,486.5 L259.5,486.5 L262.0,486.5 L264.5,486.5 L267.0,486.6 L269.5,486.5 L272.0,486.5 L274.5,486.5 L277.0,486.4 L279.5,486.5 L282.0,486.5 L284.5,486.4 L287.0,486.6 L289.5,486.5 L292.0,486.5 L294.5,486.5 L297.0,486.4 L299.5,486.6 L302.0,486.6 L304.5,486.4 L307.0,486.5 L309.5,486.4 L312.0,486.6 L314.5,486.5 L317.0,486.5 L319.5,486.5 L322.0,486.5 L324.5,486.4 L327.0,486.6 L329.5,486.6 L332.0,486.5 L334.5,486.5 L337.0,486.4 L339.5,486.5 L342.0,486.4 L344.5,486.5 L347.0,486.5 L349.5,486.4 L352.0,486.3 L354.5,486.2 L357.0,486.2 L359.5,486.0 L362.0,486.0 L364.5,486.0 L367.0,485.9 L369.5,485.7 L372.0,485.7 L374.5,485.6 L377.0,485.6 L379.5,485.5 L382.0,485.4 L384.5,485.3 L387.0,485.2 L389.5,485.3 L392.0,485.1 L394.5,485.0 L397.0,485.0 L399.5,485.0 L402.0,484.9 L404.5,484.8 L407.0,484.9 L409.5,484.7 L412.0,484.7 L414.5,484.6 L417.0,484.6 L419.5,484.5 L422.0,484.3 L424.5,484.3 L427.0,484.1 L429.5,483.7 L432.0,483.5 L434.5,483.6 L437.0,483.6 L439.5,483.6 L442.0,483.4 L444.5,482.8 L447.0,482.4 L449.5,481.9 L452.0,481.2 L454.5,480.9 L457.0,480.4 L459.5,479.9 L462.0,479.4 L464.5,478.9 L467.0,478.4 L469.5,477.8 L472.0,477.4 L474.5,476.9 L477.0,476.3 L479.5,476.0 L482.0,475.3 L484.5,474.9 L487.0,474.3 L489.5,473.9 L492.0,473.5 L494.5,473.3 L497.0,472.9 L499.5,472.6 L502.0,472.1 L504.5,471.8 L507.0,472.1 L509.5,472.0 L512.0,472.1 L514.5,472.1 L517.0,472.1 L519.5,472.3 L522.0,472.4 L524.5,471.8 L527.0,470.9 L529.5,470.1 L532.0,469.1 L534.5,468.0 L537.0,467.5 L539.5,467.5 L542.0,466.8 L544.5,466.9 L547.0,466.4 L549.5,466.5 L552.0,466.8 L554.5,467.4 L557.0,467.5 L559.5,467.3 L562.0,467.3 L564.5,467.3 L567.0,467.1 L569.5,467.2 L572.0,467.1 L574.5,466.8 L577.0,467.2 L579.5,467.2 L582.0,466.8 L584.5,466.9 L587.0,466.6 L589.5,466.4 L592.0,466.6 L594.5,466.8 L597.0,467.2 L599.5,467.5 L602.0,468.1 L604.5,467.3 L607.0,466.1 L609.5,465.1 L612.0,463.9 L614.5,464.1 L617.0,464.6 L619.5,464.9 L622.0,465.6 L624.5,466.3 L627.0,466.7 L629.5,467.0 L632.0,467.4 L634.5,467.9 L637.0,468.1 L639.5,468.6 L642.0,468.8 L644.5,469.3 L647.0,469.3 L649.5,469.8 L652.0,469.9 L654.5,470.6 L657.0,470.6 L659.5,470.8 L662.0,471.2 L664.5,471.9 L667.0,472.7 L669.5,473.6 L672.0,472.1 L674.5,470.1 L677.0,469.7 L679.5,469.8 L682.0,469.7 L684.5,469.8 L687.0,470.5 L689.5,470.8 L692.0,471.3 L694.5,471.8 L697.0,471.6 L699.5,471.2 L702.0,471.1 L704.5,470.6 L707.0,470.7 L709.5,471.1 L712.0,471.4 L714.5,471.8 L717.0,472.3 L719.5,473.1 L722.0,473.2 L724.5,474.0 L727.0,474.4 L729.5,474.4 L732.0,474.1 L734.5,474.2 L737.0,474.0 L739.5,473.9 L742.0,473.6 L744.5,473.3 L747.0,473.2 L749.5,472.9 L752.0,472.6 L754.5,472.4 L757.0,472.5 L759.5,472.7 L762.0,472.9 L764.5,473.1 L767.0,473.1 L769.5,473.3 L772.0,473.4 L774.5,473.4 L777.0,473.8 L779.5,473.9 L782.0,473.1 L784.5,472.7 L787.0,472.1 L789.5,471.5 L792.0,471.5 L794.5,471.9 L797.0,472.1 L799.5,472.5 L802.0,472.7 L804.5,472.8 L807.0,472.8 L809.5,473.1 L812.0,472.6 L814.5,472.0 L817.0,471.6 L819.5,471.2 L822.0,471.5 L824.5,471.7 L827.0,472.0 L829.5,471.9 L832.0,472.0 L834.5,472.1 L837.0,471.3 L839.5,471.0 L842.0,470.1 L844.5,469.6 L847.0,469.6 L849.5,469.1 L852.0,468.8 L854.5,468.7 L857.0,468.4 L859.5,468.2 L862.0,467.8 L864.5,467.8 L867.0,467.7 L869.5,467.5 L872.0,466.0 L874.5,463.9 L877.0,462.7 L879.5,462.9 L882.0,463.8 L884.5,464.3 L887.0,464.6 L889.5,464.8 L892.0,465.0 L894.5,465.0 L897.0,465.5 L899.5,465.3 L902.0,465.3 L904.5,466.1 L907.0,466.8 L909.5,467.1 L912.0,468.1 L914.5,468.2 L917.0,468.4 L919.5,468.4 L922.0,468.8 L924.5,466.6 L927.0,463.4 L929.5,460.5 L932.0,460.5 L934.5,460.8 L937.0,461.4 L939.5,462.0 L942.0,462.0 L944.5,462.7 L947.0,463.2 L949.5,464.0 L952.0,465.0 L954.5,465.1 L957.0,465.8 L959.5,466.4 L962.0,466.2 L964.5,466.6 L967.0,466.9 L969.5,467.2 L972.0,467.6 L974.5,467.6 L977.0,467.9 L979.0,467.9 L979.0,488.0 Z" fill="#f591c9"/><path d="M99.5,467.4 L102.0,468.6 L104.5,469.5 L107.0,470.8 L109.5,471.8 L112.0,472.9 L114.5,473.9 L117.0,474.7 L119.5,475.7 L122.0,476.5 L124.5,477.0 L127.0,477.7 L129.5,478.4 L132.0,479.1 L134.5,479.8 L137.0,480.3 L139.5,480.8 L142.0,481.2 L144.5,481.8 L147.0,482.1 L149.5,482.3 L152.0,482.6 L154.5,482.9 L157.0,483.0 L159.5,483.4 L162.0,483.7 L164.5,483.8 L167.0,484.2 L169.5,484.4 L172.0,484.6 L174.5,484.7 L177.0,484.7 L179.5,484.9 L182.0,485.0 L184.5,485.1 L187.0,485.2 L189.5,485.2 L192.0,485.3 L194.5,485.5 L197.0,485.5 L199.5,485.6 L202.0,485.5 L204.5,485.6 L207.0,485.7 L209.5,485.7 L212.0,485.8 L214.5,485.9 L217.0,485.8 L219.5,485.9 L222.0,486.1 L224.5,486.1 L227.0,486.2 L229.5,486.1 L232.0,486.2 L234.5,486.3 L237.0,486.3 L239.5,486.4 L242.0,486.4 L244.5,486.5 L247.0,486.5 L249.5,486.5 L252.0,486.5 L254.5,486.5 L257.0,486.5 L259.5,486.5 L262.0,486.5 L264.5,486.5 L267.0,486.6 L269.5,486.5 L272.0,486.5 L274.5,486.5 L277.0,486.4 L279.5,486.5 L282.0,486.5 L284.5,486.4 L287.0,486.6 L289.5,486.5 L292.0,486.5 L294.5,486.5 L297.0,486.4 L299.5,486.6 L302.0,486.6 L304.5,486.4 L307.0,486.5 L309.5,486.4 L312.0,486.6 L314.5,486.5 L317.0,486.5 L319.5,486.5 L322.0,486.5 L324.5,486.4 L327.0,486.6 L329.5,486.6 L332.0,486.5 L334.5,486.5 L337.0,486.4 L339.5,486.5 L342.0,486.4 L344.5,486.5 L347.0,486.5 L349.5,486.4 L352.0,486.3 L354.5,486.2 L357.0,486.2 L359.5,486.0 L362.0,486.0 L364.5,486.0 L367.0,485.9 L369.5,485.7 L372.0,485.7 L374.5,485.6 L377.0,485.6 L379.5,485.5 L382.0,485.4 L384.5,485.3 L387.0,485.2 L389.5,485.3 L392.0,485.1 L394.5,485.0 L397.0,485.0 L399.5,485.0 L402.0,484.9 L404.5,484.8 L407.0,484.9 L409.5,484.7 L412.0,484.7 L414.5,484.6 L417.0,484.6 L419.5,484.5 L422.0,484.3 L424.5,484.3 L427.0,484.1 L429.5,483.7 L432.0,483.5 L434.5,483.6 L437.0,483.6 L439.5,483.6 L442.0,483.4 L444.5,482.8 L447.0,482.4 L449.5,481.9 L452.0,481.2 L454.5,480.9 L457.0,480.4 L459.5,479.9 L462.0,479.4 L464.5,478.9 L467.0,478.4 L469.5,477.8 L472.0,477.4 L474.5,476.9 L477.0,476.3 L479.5,476.0 L482.0,475.3 L484.5,474.9 L487.0,474.3 L489.5,473.9 L492.0,473.5 L494.5,473.3 L497.0,472.9 L499.5,472.6 L502.0,472.1 L504.5,471.8 L507.0,472.1 L509.5,472.0 L512.0,472.1 L514.5,472.1 L517.0,472.1 L519.5,472.3 L522.0,472.4 L524.5,471.8 L527.0,470.9 L529.5,470.1 L532.0,469.1 L534.5,468.0 L537.0,467.5 L539.5,467.5 L542.0,466.8 L544.5,466.9 L547.0,466.4 L549.5,466.5 L552.0,466.8 L554.5,467.4 L557.0,467.5 L559.5,467.3 L562.0,467.3 L564.5,467.3 L567.0,467.1 L569.5,467.2 L572.0,467.1 L574.5,466.8 L577.0,467.2 L579.5,467.2 L582.0,466.8 L584.5,466.9 L587.0,466.6 L589.5,466.4 L592.0,466.6 L594.5,466.8 L597.0,467.2 L599.5,467.5 L602.0,468.1 L604.5,467.3 L607.0,466.1 L609.5,465.1 L612.0,463.9 L614.5,464.1 L617.0,464.6 L619.5,464.9 L622.0,465.6 L624.5,466.3 L627.0,466.7 L629.5,467.0 L632.0,467.4 L634.5,467.9 L637.0,468.1 L639.5,468.6 L642.0,468.8 L644.5,469.3 L647.0,469.3 L649.5,469.8 L652.0,469.9 L654.5,470.6 L657.0,470.6 L659.5,470.8 L662.0,471.2 L664.5,471.9 L667.0,472.7 L669.5,473.6 L672.0,472.1 L674.5,470.1 L677.0,469.7 L679.5,469.8 L682.0,469.7 L684.5,469.8 L687.0,470.5 L689.5,470.8 L692.0,471.3 L694.5,471.8 L697.0,471.6 L699.5,471.2 L702.0,471.1 L704.5,470.6 L707.0,470.7 L709.5,471.1 L712.0,471.4 L714.5,471.8 L717.0,472.3 L719.5,473.1 L722.0,473.2 L724.5,474.0 L727.0,474.4 L729.5,474.4 L732.0,474.1 L734.5,474.2 L737.0,474.0 L739.5,473.9 L742.0,473.6 L744.5,473.3 L747.0,473.2 L749.5,472.9 L752.0,472.6 L754.5,472.4 L757.0,472.5 L759.5,472.7 L762.0,472.9 L764.5,473.1 L767.0,473.1 L769.5,473.3 L772.0,473.4 L774.5,473.4 L777.0,473.8 L779.5,473.9 L782.0,473.1 L784.5,472.7 L787.0,472.1 L789.5,471.5 L792.0,471.5 L794.5,471.9 L797.0,472.1 L799.5,472.5 L802.0,472.7 L804.5,472.8 L807.0,472.8 L809.5,473.1 L812.0,472.6 L814.5,472.0 L817.0,471.6 L819.5,471.2 L822.0,471.5 L824.5,471.7 L827.0,472.0 L829.5,471.9 L832.0,472.0 L834.5,472.1 L837.0,471.3 L839.5,471.0 L842.0,470.1 L844.5,469.6 L847.0,469.6 L849.5,469.1 L852.0,468.8 L854.5,468.7 L857.0,468.4 L859.5,468.2 L862.0,467.8 L864.5,467.8 L867.0,467.7 L869.5,467.5 L872.0,466.0 L874.5,463.9 L877.0,462.7 L879.5,462.9 L882.0,463.8 L884.5,464.3 L887.0,464.6 L889.5,464.8 L892.0,465.0 L894.5,465.0 L897.0,465.5 L899.5,465.3 L902.0,465.3 L904.5,466.1 L907.0,466.8 L909.5,467.1 L912.0,468.1 L914.5,468.2 L917.0,468.4 L919.5,468.4 L922.0,468.8 L924.5,466.6 L927.0,463.4 L929.5,460.5 L932.0,460.5 L934.5,460.8 L937.0,461.4 L939.5,462.0 L942.0,462.0 L944.5,462.7 L947.0,463.2 L949.5,464.0 L952.0,465.0 L954.5,465.1 L957.0,465.8 L959.5,466.4 L962.0,466.2 L964.5,466.6 L967.0,466.9 L969.5,467.2 L972.0,467.6 L974.5,467.6 L977.0,467.9 L979.0,467.9" fill="none" stroke="#f07fc0" stroke-width="1.1" stroke-linejoin="round"/><path d="M99.5,488.0 L99.5,472.5 L102.0,473.4 L104.5,474.0 L107.0,474.9 L109.5,475.9 L112.0,476.6 L114.5,477.1 L117.0,477.7 L119.5,478.5 L122.0,478.9 L124.5,479.5 L127.0,480.2 L129.5,480.7 L132.0,481.4 L134.5,482.0 L137.0,482.4 L139.5,482.8 L142.0,483.1 L144.5,483.6 L147.0,483.9 L149.5,484.1 L152.0,484.2 L154.5,484.4 L157.0,484.7 L159.5,484.8 L162.0,485.0 L164.5,485.2 L167.0,485.4 L169.5,485.6 L172.0,485.8 L174.5,485.9 L177.0,486.1 L179.5,486.1 L182.0,486.3 L184.5,486.3 L187.0,486.4 L189.5,486.5 L192.0,486.6 L194.5,486.7 L197.0,486.8 L199.5,486.8 L202.0,486.9 L204.5,486.8 L207.0,486.9 L209.5,486.9 L212.0,487.0 L214.5,487.0 L217.0,487.1 L219.5,487.2 L222.0,487.1 L224.5,487.1 L227.0,487.2 L229.5,487.3 L232.0,487.3 L234.5,487.3 L237.0,487.4 L239.5,487.5 L242.0,487.5 L244.5,487.5 L247.0,487.5 L249.5,487.5 L252.0,487.6 L254.5,487.5 L257.0,487.6 L259.5,487.5 L262.0,487.5 L264.5,487.6 L267.0,487.5 L269.5,487.5 L272.0,487.5 L274.5,487.5 L277.0,487.5 L279.5,487.4 L282.0,487.5 L284.5,487.5 L287.0,487.5 L289.5,487.4 L292.0,487.4 L294.5,487.5 L297.0,487.6 L299.5,487.5 L302.0,487.5 L304.5,487.6 L307.0,487.4 L309.5,487.5 L312.0,487.5 L314.5,487.5 L317.0,487.4 L319.5,487.5 L322.0,487.5 L324.5,487.5 L327.0,487.6 L329.5,487.5 L332.0,487.5 L334.5,487.5 L337.0,487.4 L339.5,487.6 L342.0,487.5 L344.5,487.5 L347.0,487.4 L349.5,487.4 L352.0,487.4 L354.5,487.4 L357.0,487.2 L359.5,487.2 L362.0,487.2 L364.5,487.1 L367.0,487.1 L369.5,487.1 L372.0,487.0 L374.5,486.9 L377.0,486.8 L379.5,486.8 L382.0,486.8 L384.5,486.8 L387.0,486.7 L389.5,486.6 L392.0,486.6 L394.5,486.5 L397.0,486.5 L399.5,486.4 L402.0,486.4 L404.5,486.4 L407.0,486.2 L409.5,486.2 L412.0,486.2 L414.5,486.1 L417.0,486.1 L419.5,486.1 L422.0,486.0 L424.5,485.8 L427.0,485.7 L429.5,485.7 L432.0,485.6 L434.5,485.6 L437.0,485.9 L439.5,486.2 L442.0,485.9 L444.5,485.6 L447.0,485.3 L449.5,485.0 L452.0,484.6 L454.5,484.2 L457.0,483.9 L459.5,483.4 L462.0,483.0 L464.5,482.6 L467.0,482.2 L469.5,481.9 L472.0,481.4 L474.5,480.9 L477.0,480.5 L479.5,480.2 L482.0,479.9 L484.5,479.5 L487.0,479.2 L489.5,478.8 L492.0,478.5 L494.5,478.3 L497.0,478.1 L499.5,477.8 L502.0,477.5 L504.5,477.5 L507.0,477.5 L509.5,477.5 L512.0,477.6 L514.5,477.6 L517.0,477.6 L519.5,477.9 L522.0,477.9 L524.5,477.6 L527.0,476.8 L529.5,476.2 L532.0,475.6 L534.5,475.1 L537.0,474.9 L539.5,474.2 L542.0,473.9 L544.5,473.6 L547.0,473.5 L549.5,473.6 L552.0,474.0 L554.5,474.5 L557.0,474.4 L559.5,474.2 L562.0,474.2 L564.5,474.2 L567.0,474.0 L569.5,474.0 L572.0,474.0 L574.5,473.9 L577.0,474.1 L579.5,474.0 L582.0,474.1 L584.5,474.0 L587.0,473.9 L589.5,473.7 L592.0,473.9 L594.5,474.1 L597.0,474.3 L599.5,474.6 L602.0,474.9 L604.5,474.2 L607.0,473.0 L609.5,472.0 L612.0,470.9 L614.5,470.7 L617.0,470.9 L619.5,471.5 L622.0,471.6 L624.5,472.0 L627.0,472.4 L629.5,472.7 L632.0,473.3 L634.5,473.7 L637.0,474.1 L639.5,474.2 L642.0,474.4 L644.5,474.8 L647.0,474.9 L649.5,475.2 L652.0,475.2 L654.5,475.5 L657.0,475.8 L659.5,476.0 L662.0,476.3 L664.5,476.5 L667.0,477.1 L669.5,477.3 L672.0,476.4 L674.5,474.8 L677.0,474.5 L679.5,474.8 L682.0,474.8 L684.5,475.0 L687.0,475.3 L689.5,475.5 L692.0,475.8 L694.5,476.1 L697.0,476.0 L699.5,475.6 L702.0,475.3 L704.5,475.1 L707.0,475.3 L709.5,475.6 L712.0,475.9 L714.5,476.2 L717.0,476.5 L719.5,477.0 L722.0,477.3 L724.5,477.9 L727.0,478.2 L729.5,478.1 L732.0,478.1 L734.5,478.1 L737.0,478.0 L739.5,477.9 L742.0,477.8 L744.5,477.7 L747.0,477.5 L749.5,477.2 L752.0,476.9 L754.5,476.9 L757.0,477.0 L759.5,477.2 L762.0,477.5 L764.5,477.4 L767.0,477.6 L769.5,477.6 L772.0,477.9 L774.5,478.0 L777.0,477.9 L779.5,478.5 L782.0,478.5 L784.5,478.4 L787.0,478.1 L789.5,478.1 L792.0,478.2 L794.5,478.3 L797.0,478.5 L799.5,478.7 L802.0,478.8 L804.5,479.1 L807.0,479.2 L809.5,479.5 L812.0,479.2 L814.5,479.2 L817.0,479.0 L819.5,478.8 L822.0,478.8 L824.5,478.8 L827.0,478.8 L829.5,478.8 L832.0,478.7 L834.5,478.7 L837.0,478.3 L839.5,477.7 L842.0,477.1 L844.5,476.6 L847.0,476.3 L849.5,476.0 L852.0,475.6 L854.5,475.3 L857.0,475.4 L859.5,475.3 L862.0,475.0 L864.5,475.0 L867.0,474.9 L869.5,474.9 L872.0,474.5 L874.5,474.0 L877.0,473.8 L879.5,474.2 L882.0,474.5 L884.5,474.7 L887.0,474.9 L889.5,475.1 L892.0,475.2 L894.5,475.3 L897.0,475.4 L899.5,475.4 L902.0,475.5 L904.5,475.7 L907.0,476.1 L909.5,476.7 L912.0,476.9 L914.5,477.2 L917.0,477.2 L919.5,477.3 L922.0,477.5 L924.5,475.2 L927.0,472.2 L929.5,469.3 L932.0,469.0 L934.5,469.1 L937.0,469.4 L939.5,469.8 L942.0,470.3 L944.5,470.7 L947.0,470.9 L949.5,471.5 L952.0,471.9 L954.5,472.3 L957.0,472.2 L959.5,472.5 L962.0,472.8 L964.5,472.7 L967.0,473.0 L969.5,473.2 L972.0,473.4 L974.5,473.6 L977.0,473.6 L979.0,473.7 L979.0,488.0 Z" fill="#7fa3fb"/><path d="M99.5,472.5 L102.0,473.4 L104.5,474.0 L107.0,474.9 L109.5,475.9 L112.0,476.6 L114.5,477.1 L117.0,477.7 L119.5,478.5 L122.0,478.9 L124.5,479.5 L127.0,480.2 L129.5,480.7 L132.0,481.4 L134.5,482.0 L137.0,482.4 L139.5,482.8 L142.0,483.1 L144.5,483.6 L147.0,483.9 L149.5,484.1 L152.0,484.2 L154.5,484.4 L157.0,484.7 L159.5,484.8 L162.0,485.0 L164.5,485.2 L167.0,485.4 L169.5,485.6 L172.0,485.8 L174.5,485.9 L177.0,486.1 L179.5,486.1 L182.0,486.3 L184.5,486.3 L187.0,486.4 L189.5,486.5 L192.0,486.6 L194.5,486.7 L197.0,486.8 L199.5,486.8 L202.0,486.9 L204.5,486.8 L207.0,486.9 L209.5,486.9 L212.0,487.0 L214.5,487.0 L217.0,487.1 L219.5,487.2 L222.0,487.1 L224.5,487.1 L227.0,487.2 L229.5,487.3 L232.0,487.3 L234.5,487.3 L237.0,487.4 L239.5,487.5 L242.0,487.5 L244.5,487.5 L247.0,487.5 L249.5,487.5 L252.0,487.6 L254.5,487.5 L257.0,487.6 L259.5,487.5 L262.0,487.5 L264.5,487.6 L267.0,487.5 L269.5,487.5 L272.0,487.5 L274.5,487.5 L277.0,487.5 L279.5,487.4 L282.0,487.5 L284.5,487.5 L287.0,487.5 L289.5,487.4 L292.0,487.4 L294.5,487.5 L297.0,487.6 L299.5,487.5 L302.0,487.5 L304.5,487.6 L307.0,487.4 L309.5,487.5 L312.0,487.5 L314.5,487.5 L317.0,487.4 L319.5,487.5 L322.0,487.5 L324.5,487.5 L327.0,487.6 L329.5,487.5 L332.0,487.5 L334.5,487.5 L337.0,487.4 L339.5,487.6 L342.0,487.5 L344.5,487.5 L347.0,487.4 L349.5,487.4 L352.0,487.4 L354.5,487.4 L357.0,487.2 L359.5,487.2 L362.0,487.2 L364.5,487.1 L367.0,487.1 L369.5,487.1 L372.0,487.0 L374.5,486.9 L377.0,486.8 L379.5,486.8 L382.0,486.8 L384.5,486.8 L387.0,486.7 L389.5,486.6 L392.0,486.6 L394.5,486.5 L397.0,486.5 L399.5,486.4 L402.0,486.4 L404.5,486.4 L407.0,486.2 L409.5,486.2 L412.0,486.2 L414.5,486.1 L417.0,486.1 L419.5,486.1 L422.0,486.0 L424.5,485.8 L427.0,485.7 L429.5,485.7 L432.0,485.6 L434.5,485.6 L437.0,485.9 L439.5,486.2 L442.0,485.9 L444.5,485.6 L447.0,485.3 L449.5,485.0 L452.0,484.6 L454.5,484.2 L457.0,483.9 L459.5,483.4 L462.0,483.0 L464.5,482.6 L467.0,482.2 L469.5,481.9 L472.0,481.4 L474.5,480.9 L477.0,480.5 L479.5,480.2 L482.0,479.9 L484.5,479.5 L487.0,479.2 L489.5,478.8 L492.0,478.5 L494.5,478.3 L497.0,478.1 L499.5,477.8 L502.0,477.5 L504.5,477.5 L507.0,477.5 L509.5,477.5 L512.0,477.6 L514.5,477.6 L517.0,477.6 L519.5,477.9 L522.0,477.9 L524.5,477.6 L527.0,476.8 L529.5,476.2 L532.0,475.6 L534.5,475.1 L537.0,474.9 L539.5,474.2 L542.0,473.9 L544.5,473.6 L547.0,473.5 L549.5,473.6 L552.0,474.0 L554.5,474.5 L557.0,474.4 L559.5,474.2 L562.0,474.2 L564.5,474.2 L567.0,474.0 L569.5,474.0 L572.0,474.0 L574.5,473.9 L577.0,474.1 L579.5,474.0 L582.0,474.1 L584.5,474.0 L587.0,473.9 L589.5,473.7 L592.0,473.9 L594.5,474.1 L597.0,474.3 L599.5,474.6 L602.0,474.9 L604.5,474.2 L607.0,473.0 L609.5,472.0 L612.0,470.9 L614.5,470.7 L617.0,470.9 L619.5,471.5 L622.0,471.6 L624.5,472.0 L627.0,472.4 L629.5,472.7 L632.0,473.3 L634.5,473.7 L637.0,474.1 L639.5,474.2 L642.0,474.4 L644.5,474.8 L647.0,474.9 L649.5,475.2 L652.0,475.2 L654.5,475.5 L657.0,475.8 L659.5,476.0 L662.0,476.3 L664.5,476.5 L667.0,477.1 L669.5,477.3 L672.0,476.4 L674.5,474.8 L677.0,474.5 L679.5,474.8 L682.0,474.8 L684.5,475.0 L687.0,475.3 L689.5,475.5 L692.0,475.8 L694.5,476.1 L697.0,476.0 L699.5,475.6 L702.0,475.3 L704.5,475.1 L707.0,475.3 L709.5,475.6 L712.0,475.9 L714.5,476.2 L717.0,476.5 L719.5,477.0 L722.0,477.3 L724.5,477.9 L727.0,478.2 L729.5,478.1 L732.0,478.1 L734.5,478.1 L737.0,478.0 L739.5,477.9 L742.0,477.8 L744.5,477.7 L747.0,477.5 L749.5,477.2 L752.0,476.9 L754.5,476.9 L757.0,477.0 L759.5,477.2 L762.0,477.5 L764.5,477.4 L767.0,477.6 L769.5,477.6 L772.0,477.9 L774.5,478.0 L777.0,477.9 L779.5,478.5 L782.0,478.5 L784.5,478.4 L787.0,478.1 L789.5,478.1 L792.0,478.2 L794.5,478.3 L797.0,478.5 L799.5,478.7 L802.0,478.8 L804.5,479.1 L807.0,479.2 L809.5,479.5 L812.0,479.2 L814.5,479.2 L817.0,479.0 L819.5,478.8 L822.0,478.8 L824.5,478.8 L827.0,478.8 L829.5,478.8 L832.0,478.7 L834.5,478.7 L837.0,478.3 L839.5,477.7 L842.0,477.1 L844.5,476.6 L847.0,476.3 L849.5,476.0 L852.0,475.6 L854.5,475.3 L857.0,475.4 L859.5,475.3 L862.0,475.0 L864.5,475.0 L867.0,474.9 L869.5,474.9 L872.0,474.5 L874.5,474.0 L877.0,473.8 L879.5,474.2 L882.0,474.5 L884.5,474.7 L887.0,474.9 L889.5,475.1 L892.0,475.2 L894.5,475.3 L897.0,475.4 L899.5,475.4 L902.0,475.5 L904.5,475.7 L907.0,476.1 L909.5,476.7 L912.0,476.9 L914.5,477.2 L917.0,477.2 L919.5,477.3 L922.0,477.5 L924.5,475.2 L927.0,472.2 L929.5,469.3 L932.0,469.0 L934.5,469.1 L937.0,469.4 L939.5,469.8 L942.0,470.3 L944.5,470.7 L947.0,470.9 L949.5,471.5 L952.0,471.9 L954.5,472.3 L957.0,472.2 L959.5,472.5 L962.0,472.8 L964.5,472.7 L967.0,473.0 L969.5,473.2 L972.0,473.4 L974.5,473.6 L977.0,473.6 L979.0,473.7" fill="none" stroke="#6b95fa" stroke-width="1.1" stroke-linejoin="round"/><path d="M99.5,437.5 L102.0,438.7 L104.5,439.9 L107.0,438.6 L109.5,437.1 L112.0,438.1 L114.5,439.3 L117.0,441.2 L119.5,444.4 L122.0,447.5 L124.5,450.6 L127.0,453.0 L129.5,454.2 L132.0,455.5 L134.5,456.8 L137.0,457.8 L139.5,458.4 L142.0,459.0 L144.5,459.6 L147.0,460.4 L149.5,461.4 L152.0,462.4 L154.5,463.4 L157.0,464.4 L159.5,465.3 L162.0,466.1 L164.5,466.8 L167.0,467.6 L169.5,468.3 L172.0,468.9 L174.5,469.4 L177.0,469.9 L179.5,470.4 L182.0,470.9 L184.5,471.4 L187.0,471.6 L189.5,471.9 L192.0,472.1 L194.5,472.4 L197.0,472.8 L199.5,473.6 L202.0,474.3 L204.5,475.1 L207.0,475.8 L209.5,476.4 L212.0,476.7 L214.5,477.1 L217.0,477.4 L219.5,477.8 L222.0,478.1 L224.5,478.3 L227.0,478.5 L229.5,478.7 L232.0,478.9 L234.5,479.1 L237.0,479.3 L239.5,479.5 L242.0,479.7 L244.5,479.9 L247.0,480.1 L249.5,480.2 L252.0,480.4 L254.5,480.5 L257.0,480.7 L259.5,480.8 L262.0,481.0 L264.5,481.1 L267.0,481.3 L269.5,481.4 L272.0,481.5 L274.5,481.6 L277.0,481.6 L279.5,481.7 L282.0,481.7 L284.5,481.8 L287.0,481.8 L289.5,481.9 L292.0,481.9 L294.5,482.0 L297.0,482.0 L299.5,481.9 L302.0,481.9 L304.5,481.8 L307.0,481.8 L309.5,481.7 L312.0,481.7 L314.5,481.6 L317.0,481.6 L319.5,481.5 L322.0,481.5 L324.5,481.4 L327.0,481.3 L329.5,481.2 L332.0,481.1 L334.5,481.0 L337.0,480.9 L339.5,480.8 L342.0,480.7 L344.5,480.6 L347.0,480.4 L349.5,480.1 L352.0,479.8 L354.5,479.5 L357.0,479.2 L359.5,478.8 L362.0,478.4 L364.5,478.0 L367.0,477.6 L369.5,477.2 L372.0,476.9 L374.5,476.8 L377.0,476.6 L379.5,476.5 L382.0,476.3 L384.5,476.1 L387.0,475.8 L389.5,475.4 L392.0,475.1 L394.5,474.7 L397.0,474.3 L399.5,473.8 L402.0,473.3 L404.5,472.8 L407.0,472.3 L409.5,471.7 L412.0,471.1 L414.5,470.4 L417.0,469.8 L419.5,469.1 L422.0,468.4 L424.5,467.7 L427.0,466.9 L429.5,466.2 L432.0,465.4 L434.5,464.6 L437.0,463.7 L439.5,462.7 L442.0,461.3 L444.5,459.8 L447.0,458.3 L449.5,456.8 L452.0,455.3 L454.5,453.6 L457.0,451.9 L459.5,450.1 L462.0,448.4 L464.5,446.6 L467.0,444.4 L469.5,442.2 L472.0,439.9 L474.5,437.7 L477.0,435.4 L479.5,433.8 L482.0,432.3 L484.5,430.8 L487.0,429.3 L489.5,427.8 L492.0,426.7 L494.5,425.7 L497.0,424.7 L499.5,423.7 L502.0,422.7 L504.5,422.1 L507.0,421.6 L509.5,421.1 L512.0,420.6 L514.5,420.1 L517.0,419.5 L519.5,418.9 L522.0,418.3 L524.5,417.7 L527.0,417.1 L529.5,416.5 L532.0,415.8 L534.5,415.1 L537.0,414.5 L539.5,413.8 L542.0,413.1 L544.5,413.5 L547.0,414.1 L549.5,414.8 L552.0,415.4 L554.5,415.6 L557.0,415.8 L559.5,416.0 L562.0,416.2 L564.5,416.0 L567.0,415.6 L569.5,415.3 L572.0,414.9 L574.5,414.6 L577.0,414.4 L579.5,414.3 L582.0,414.1 L584.5,414.0 L587.0,413.9 L589.5,413.8 L592.0,413.8 L594.5,413.8 L597.0,413.8 L599.5,413.8 L602.0,413.8 L604.5,413.6 L607.0,413.5 L609.5,413.3 L612.0,413.2 L614.5,413.0 L617.0,413.5 L619.5,414.2 L622.0,414.8 L624.5,415.5 L627.0,416.1 L629.5,416.6 L632.0,417.1 L634.5,417.6 L637.0,418.1 L639.5,418.6 L642.0,419.2 L644.5,419.9 L647.0,420.5 L649.5,421.1 L652.0,422.4 L654.5,423.8 L657.0,425.3 L659.5,426.7 L662.0,426.7 L664.5,426.3 L667.0,425.9 L669.5,425.5 L672.0,425.1 L674.5,426.5 L677.0,428.3 L679.5,430.1 L682.0,430.8 L684.5,431.2 L687.0,431.6 L689.5,431.9 L692.0,431.9 L694.5,431.7 L697.0,431.6 L699.5,431.4 L702.0,431.3 L704.5,432.1 L707.0,433.1 L709.5,434.1 L712.0,435.1 L714.5,436.1 L717.0,435.7 L719.5,435.1 L722.0,434.4 L724.5,433.8 L727.0,433.1 L729.5,433.8 L732.0,434.8 L734.5,435.8 L737.0,436.8 L739.5,437.8 L742.0,438.1 L744.5,438.3 L747.0,438.4 L749.5,438.6 L752.0,438.7 L754.5,438.8 L757.0,438.8 L759.5,438.8 L762.0,438.8 L764.5,438.8 L767.0,438.6 L769.5,438.5 L772.0,438.3 L774.5,438.2 L777.0,438.0 L779.5,438.6 L782.0,438.5 L784.5,438.2 L787.0,437.9 L789.5,437.6 L792.0,436.9 L794.5,436.1 L797.0,435.4 L799.5,434.6 L802.0,433.9 L804.5,434.2 L807.0,434.9 L809.5,435.5 L812.0,436.1 L814.5,436.1 L817.0,435.8 L819.5,435.6 L822.0,435.3 L824.5,435.1 L827.0,433.9 L829.5,432.5 L832.0,431.1 L834.5,429.8 L837.0,429.5 L839.5,429.5 L842.0,429.5 L844.5,429.5 L847.0,429.2 L849.5,428.8 L852.0,428.4 L854.5,428.1 L857.0,427.1 L859.5,426.0 L862.0,424.9 L864.5,423.8 L867.0,422.7 L869.5,422.6 L872.0,422.7 L874.5,422.8 L877.0,422.9 L879.5,423.0 L882.0,421.6 L884.5,420.0 L887.0,418.3 L889.5,416.6 L892.0,416.2 L894.5,416.2 L897.0,416.2 L899.5,416.2 L902.0,416.2 L904.5,414.9 L907.0,413.2 L909.5,411.6 L912.0,408.6 L914.5,405.3 L917.0,403.0 L919.5,403.0 L922.0,403.0 L924.5,402.5 L927.0,401.9 L929.5,401.3 L932.0,400.7 L934.5,400.1 L937.0,399.4 L939.5,398.6 L942.0,397.9 L944.5,397.1 L947.0,401.3 L949.5,411.0 L952.0,431.0 L954.5,444.5 L957.0,456.4 L959.5,459.2 L962.0,459.9 L964.5,460.1 L967.0,460.2 L969.5,460.4 L972.0,460.5 L974.5,454.9 L977.0,441.8 L979.0,420.0" fill="none" stroke="#e9efee" stroke-width="1.1" stroke-dasharray="2.6,1.8" opacity=".95"/></svg><div class="t " style="left:107px;top:492.5px;font-size:8px;color:#9097a8">Dec 1</div><div class="t " style="left:1343px;top:492.5px;font-size:8px;color:#6f7687">23:59</div><div class="t " style="left:1356px;top:367px;font-size:7.5px;color:#b9bcc6">3K</div><div class="card" style="left:147.0px"></div><div id="f8" class="t " style="left:157.0px;top:514.8px;font-size:8.6px;color:#858b9e;letter-spacing:-0.225px">RFV</div><div id="f9" class="t " style="left:188.6px;top:531.6px;font-size:18.5px;color:#454a59;letter-spacing:0.672px">62</div><div class="card" style="left:316.9px"></div><div id="f10" class="t " style="left:326.85px;top:514.8px;font-size:8.6px;color:#858b9e;letter-spacing:0.849px">Scroll</div><div id="f11" class="t " style="left:358.45000000000005px;top:531.6px;font-size:18.5px;color:#454a59;letter-spacing:-0.391px">34%</div><div class="card" style="left:486.7px"></div><div id="f12" class="t " style="left:496.7px;top:514.8px;font-size:8.6px;color:#858b9e;letter-spacing:1.086px">Accum. Views</div><div id="f13" class="t " style="left:528.3px;top:531.6px;font-size:18.5px;color:#454a59;letter-spacing:0.373px">520.9K</div><div class="card" style="left:656.5px"></div><div id="f14" class="t " style="left:666.55px;top:514.8px;font-size:8.6px;color:#858b9e;letter-spacing:1.090px">Accum. Uniques</div><div id="f15" class="t " style="left:698.15px;top:531.6px;font-size:18.5px;color:#454a59;letter-spacing:-0.480px">156.5K</div><div class="card" style="left:826.4px"></div><div id="f16" class="t " style="left:836.4px;top:514.8px;font-size:8.6px;color:#858b9e;letter-spacing:1.125px">Reading Time</div><div id="f17" class="t " style="left:868.0px;top:531.6px;font-size:18.5px;color:#454a59;letter-spacing:-0.072px">01:44s</div><div class="card" style="left:996.2px"></div><div id="f18" class="t " style="left:1006.25px;top:514.8px;font-size:8.6px;color:#858b9e;letter-spacing:0.999px">Registro</div><div class="t " style="left:1037.85px;top:531.6px;font-size:18.5px;color:#454a59">3</div><div class="card" style="left:1166.1px"></div><div id="f19" class="t " style="left:1176.1px;top:514.8px;font-size:8.6px;color:#858b9e;letter-spacing:1.059px">Subscriptions</div><div class="abs" style="left:1207.6px;top:540.2px;width:7.8px;height:1.7px;background:#3f4454"></div><div class="abs" style="left:1218.9px;top:540.2px;width:7.8px;height:1.7px;background:#3f4454"></div><svg class="abs" style="left:0;top:0" width="1440" height="900" viewBox="0 0 1440 900"><path d="M161.77,547.87 A9.2,9.2 0 1 1 175.23,547.87" stroke="#eceef1" stroke-width="2.9" fill="none" stroke-linecap="round"/><path d="M161.77,547.87 A9.2,9.2 0 1 1 175.23,547.87" stroke="#4ecdc4" stroke-width="2.9" fill="none" stroke-linecap="round"/><path d="M331.62,547.87 A9.2,9.2 0 1 1 345.08,547.87" stroke="#eceef1" stroke-width="2.9" fill="none" stroke-linecap="round"/><path d="M331.62,547.87 A9.2,9.2 0 0 1 342.47,533.37" stroke="#4ecdc4" stroke-width="2.9" fill="none" stroke-linecap="round"/><path d="M501.47,547.87 A9.2,9.2 0 1 1 514.93,547.87" stroke="#eceef1" stroke-width="2.9" fill="none" stroke-linecap="round"/><path d="M501.47,547.87 A9.2,9.2 0 1 1 514.93,547.87" stroke="#4ecdc4" stroke-width="2.9" fill="none" stroke-linecap="round"/><path d="M671.32,547.87 A9.2,9.2 0 1 1 684.78,547.87" stroke="#eceef1" stroke-width="2.9" fill="none" stroke-linecap="round"/><path d="M671.32,547.87 A9.2,9.2 0 1 1 684.78,547.87" stroke="#4ecdc4" stroke-width="2.9" fill="none" stroke-linecap="round"/><path d="M841.17,547.87 A9.2,9.2 0 1 1 854.63,547.87" stroke="#eceef1" stroke-width="2.9" fill="none" stroke-linecap="round"/><path d="M841.17,547.87 A9.2,9.2 0 0 1 852.02,533.37" stroke="#4ecdc4" stroke-width="2.9" fill="none" stroke-linecap="round"/><path d="M1011.02,547.87 A9.2,9.2 0 1 1 1024.48,547.87" stroke="#eceef1" stroke-width="2.9" fill="none" stroke-linecap="round"/><path d="M1011.02,547.87 A9.2,9.2 0 1 1 1024.48,547.87" stroke="#4ecdc4" stroke-width="2.9" fill="none" stroke-linecap="round"/><path d="M1180.87,547.87 A9.2,9.2 0 1 1 1194.33,547.87" stroke="#f0f1f3" stroke-width="2.9" fill="none" stroke-linecap="round"/><path d="M1180.87,547.87 A9.2,9.2 0 0 1 1191.72,533.37" stroke="#bfc2c9" stroke-width="2.9" fill="none" stroke-linecap="round"/><circle cx="1181.0" cy="548.5" r="1.4" fill="#ef5350"/></svg><div id="f20" class="t lbl" style="left:123.2px;top:582px;;letter-spacing:-0.124px">TRAFFIC MEDIUM</div><svg class="abs" style="left:310px;top:584.5px" width="11" height="4" viewBox="0 0 11 4"><circle cx="1.6" cy="2" r="1.15" fill="#8b92a5"/><circle cx="5.5" cy="2" r="1.15" fill="#8b92a5"/><circle cx="9.4" cy="2" r="1.15" fill="#8b92a5"/></svg><div class="bar" style="left:123.7px;top:606.6px;width:45.3px;height:18.4px;background:#f8c768"></div><div id="f21" class="t rowl" style="left:129.3px;top:609.9px;;letter-spacing:0.182px">Internal</div><div class="t rowv" style="left:281px;width:40px;top:610.5px;color:#4a5060;font-size:9.3px">22%</div><div class="bar" style="left:123.7px;top:628.8px;width:95.5px;height:18.4px;background:#4ecdc4"></div><div id="f22" class="t rowl" style="left:129.3px;top:632.1px;;letter-spacing:0.008px">Search</div><div class="t rowv" style="left:281px;width:40px;top:632.7px;color:#4a5060;font-size:9.3px">46%</div><div class="bar" style="left:123.7px;top:651.0px;width:30.8px;height:18.4px;background:#f68d4b"></div><div id="f23" class="t rowl" style="left:129.3px;top:654.3px;;letter-spacing:-0.011px">Direct</div><div class="t rowv" style="left:281px;width:40px;top:654.9px;color:#4a5060;font-size:9.3px">15%</div><div class="bar" style="left:123.7px;top:673.2px;width:12.3px;height:18.4px;background:#f284c6"></div><div id="f24" class="t rowl" style="left:129.3px;top:676.5px;;letter-spacing:-0.094px">Social</div><div class="t rowv" style="left:281px;width:40px;top:677.1px;color:#4a5060;font-size:9.3px">6%</div><div class="bar" style="left:123.7px;top:695.4px;width:21.5px;height:18.4px;background:#5b8cf2"></div><div id="f25" class="t rowl" style="left:129.3px;top:698.6999999999999px;;letter-spacing:-0.067px">Others</div><div class="t rowv" style="left:281px;width:40px;top:699.3px;color:#4a5060;font-size:9.3px">10%</div><div id="f26" class="t lbl" style="left:123.2px;top:741px;;letter-spacing:-0.281px">TRAFFIC SOURCE</div><svg class="abs" style="left:310px;top:743.5px" width="11" height="4" viewBox="0 0 11 4"><circle cx="1.6" cy="2" r="1.15" fill="#8b92a5"/><circle cx="5.5" cy="2" r="1.15" fill="#8b92a5"/><circle cx="9.4" cy="2" r="1.15" fill="#8b92a5"/></svg><div id="f27" class="t rowl" style="left:129.3px;top:768.0px;;letter-spacing:-0.098px">Google Discover</div><div class="t rowv" style="left:271px;width:50px;top:767.9px;color:#6a7182">63.2K</div><div id="f28" class="t rowl" style="left:129.3px;top:790.25px;;letter-spacing:-0.150px">Google</div><div class="t rowv" style="left:271px;width:50px;top:790.1px;color:#6a7182">46.2K</div><div id="f29" class="t rowl" style="left:129.3px;top:812.5px;;letter-spacing:-0.099px">Articles</div><div class="t rowv" style="left:271px;width:50px;top:812.4px;color:#6a7182">35.8K</div><div id="f30" class="t rowl" style="left:129.3px;top:834.75px;;letter-spacing:-0.011px">Direct</div><div class="t rowv" style="left:271px;width:50px;top:834.6px;color:#6a7182">32.8K</div><div id="f31" class="t rowl" style="left:129.3px;top:857.0px;;letter-spacing:0.182px">Internal</div><div class="t rowv" style="left:271px;width:50px;top:856.9px;color:#6a7182">24.9K</div><svg class="abs" style="left:125.5px;top:886.5px" width="4" height="5" viewBox="0 0 4 5"><path d="M.4,.3L3.6,2.5L.4,4.7Z" fill="#3d4354"/></svg><div id="f32" class="t rowl" style="left:135.6px;top:884.8px;;letter-spacing:-0.047px">See more</div><div id="f33" class="t " style="left:399.5px;top:579px;font-size:13.5px;color:#14161d;font-weight:bold;;letter-spacing:-0.517px">Posts</div><div id="f34" class="t " style="left:451.3px;top:579px;font-size:13.5px;color:#2f3444;;letter-spacing:0.530px">Sections</div><div id="f35" class="t " style="left:523px;top:579px;font-size:13.5px;color:#2f3444;;letter-spacing:0.744px">Authors</div><div id="f36" class="t " style="left:590.3px;top:579px;font-size:13.5px;color:#2f3444;;letter-spacing:0.826px">Topics</div><div id="f37" class="t " style="left:648.9px;top:579px;font-size:13.5px;color:#2f3444;;letter-spacing:1.090px">Tags</div><div id="f38" class="t " style="left:696.9px;top:579px;font-size:13.5px;color:#2f3444;;letter-spacing:0.807px">Webs</div><div class="abs" style="left:399px;top:596.3px;width:18px;height:3.6px;border-radius:2px;background:#3168ea"></div><div class="abs" style="left:750.5px;top:580px;width:1px;height:19px;background:#eff1f5"></div><div id="f39" class="t " style="left:766.5px;top:579px;font-size:13.5px;color:#2f3444;letter-spacing:1.077px">more</div><svg class="abs" style="left:809px;top:584.5px" width="11" height="4" viewBox="0 0 11 4"><circle cx="1.6" cy="2" r="1.15" fill="#8d93a3"/><circle cx="5.5" cy="2" r="1.15" fill="#8d93a3"/><circle cx="9.4" cy="2" r="1.15" fill="#8d93a3"/></svg><div class="abs" style="left:377px;top:613.3px;width:721px;height:320px;background:#fff;border:1px solid #e9eefb;border-radius:9px;box-shadow:0 0 11px rgba(95,130,230,.17)"></div><div id="f40" class="t blur" style="left:461.4px;top:640.5px;;letter-spacing:1.033px">La Voz de Galicia. Toda la informaci&oacute;n y &uacute;ltima hora</div><div id="f41" class="t blur" style="left:461.4px;top:652.3px;;letter-spacing:0.890px">sobre Galicia.</div><div class="abs" style="left:402px;top:650.5px;width:53px;height:13px;filter:blur(2.6px);background:linear-gradient(90deg,#fbdbe2,#f8cbd6 30%,#fad6de 55%,#f8cdd7 75%,#fbdde4)"></div><div id="f42" class="t blur2" style="left:461.4px;top:668.0px;;letter-spacing:1.498px">Editorial</div><div class="abs" style="left:855.6px;top:646.3px;width:4.4px;height:30.5px;border-radius:2.2px;background:#fef7ea"></div><div class="abs" style="left:855.6px;top:674.8px;width:4.4px;height:2px;border-radius:1.0px;background:#f6b84a"></div><div class="abs" style="left:861.9px;top:646.3px;width:4.4px;height:30.5px;border-radius:2.2px;background:#e9f8f6"></div><div class="abs" style="left:861.9px;top:665.8px;width:4.4px;height:11px;border-radius:2.2px;background:#4ec5bd"></div><div class="abs" style="left:868.2px;top:646.3px;width:4.4px;height:30.5px;border-radius:2.2px;background:#fef2ea"></div><div class="abs" style="left:868.2px;top:661.8px;width:4.4px;height:15px;border-radius:2.2px;background:#f08a45"></div><div class="abs" style="left:874.5px;top:646.3px;width:4.4px;height:30.5px;border-radius:2.2px;background:#feeef6"></div><div class="abs" style="left:880.8px;top:646.3px;width:4.4px;height:30.5px;border-radius:2.2px;background:#ecf1fe"></div><div class="abs" style="left:880.8px;top:675.8px;width:4.4px;height:1px;border-radius:0.5px;background:#5b8cf2"></div><div class="t big" style="left:953px;width:120px;top:640.9px">53.6K</div><div class="t sub" style="left:880px;width:193px;top:667.9px;text-align:right;word-spacing:0">131.9K vie.<span style="display:inline-block;width:16px"></span>02:46s<span style="display:inline-block;width:16px"></span>64 RFV</div><div id="f43" class="t blur" style="left:461.4px;top:699.5px;;letter-spacing:0.967px">El anticicl&oacute;n siberiano ya afecta a Galicia y esto se</div><div id="f44" class="t blur" style="left:461.4px;top:711.3px;;letter-spacing:1.351px">espera a medio plazo</div><div class="abs" style="left:401px;top:697.3px;width:55px;height:37.4px;filter:blur(2.2px);background:radial-gradient(ellipse 38% 42% at 52% 62%,#a8a06a 0,#90956e 45%,transparent 100%),radial-gradient(ellipse 28% 34% at 84% 78%,#5e3566 0,transparent 100%),radial-gradient(ellipse 30% 40% at 90% 15%,#93a0a8 0,transparent 100%),linear-gradient(160deg,#3f5380,#566f86 45%,#6f7f78 75%,#5a5d72)"></div><div id="f45" class="t blur2" style="left:461.4px;top:726.6px;;letter-spacing:0.920px">Xavier Fonseca</div><div class="t " style="left:543.8px;top:725.5px;font-size:9.5px;color:#868c9e">12h</div><div class="abs" style="left:855.6px;top:705.1px;width:4.4px;height:30.5px;border-radius:2.2px;background:#fef7ea"></div><div class="abs" style="left:855.6px;top:727.6px;width:4.4px;height:8px;border-radius:2.2px;background:#f6b84a"></div><div class="abs" style="left:861.9px;top:705.1px;width:4.4px;height:30.5px;border-radius:2.2px;background:#e9f8f6"></div><div class="abs" style="left:861.9px;top:715.6px;width:4.4px;height:20px;border-radius:2.2px;background:#4ec5bd"></div><div class="abs" style="left:868.2px;top:705.1px;width:4.4px;height:30.5px;border-radius:2.2px;background:#fef2ea"></div><div class="abs" style="left:874.5px;top:705.1px;width:4.4px;height:30.5px;border-radius:2.2px;background:#feeef6"></div><div class="abs" style="left:874.5px;top:734.6px;width:4.4px;height:1px;border-radius:0.5px;background:#f088c6"></div><div class="abs" style="left:880.8px;top:705.1px;width:4.4px;height:30.5px;border-radius:2.2px;background:#ecf1fe"></div><div class="abs" style="left:880.8px;top:733.6px;width:4.4px;height:2px;border-radius:1.0px;background:#5b8cf2"></div><div class="t big" style="left:953px;width:120px;top:700.5px">16.4K</div><div class="t sub" style="left:880px;width:193px;top:726.1px;text-align:right;word-spacing:0">17.7K vie.<span style="display:inline-block;width:16px"></span>01:23s<span style="display:inline-block;width:16px"></span>60 RFV</div><div id="f46" class="t blur" style="left:461.4px;top:757.5px;;letter-spacing:1.047px">El detenido por matar a Cristina Cabo en Lugo confiesa</div><div id="f47" class="t blur" style="left:461.4px;top:769.3px;;letter-spacing:1.230px">el crimen y dice que estaba drogado y enajenado</div><div class="abs" style="left:401px;top:755.5px;width:55px;height:37.4px;filter:blur(2.2px);background:radial-gradient(ellipse 30% 40% at 82% 20%,#8a6cc2 0,transparent 100%),radial-gradient(ellipse 55% 55% at 48% 52%,#2c2c38 0,#3d3e50 55%,transparent 100%),linear-gradient(180deg,#83849a,#6b6c7e 50%,#8a8b98)"></div><div id="f48" class="t blur2" style="left:461.4px;top:785.2px;;letter-spacing:0.069px">Andr&eacute;s S. Vazquez</div><div class="t " style="left:546.3px;top:784.1px;font-size:9.5px;color:#868c9e">17h</div><div class="abs" style="left:855.6px;top:763.4px;width:4.4px;height:30.5px;border-radius:2.2px;background:#fef7ea"></div><div class="abs" style="left:855.6px;top:776.9px;width:4.4px;height:17px;border-radius:2.2px;background:#f6b84a"></div><div class="abs" style="left:861.9px;top:763.4px;width:4.4px;height:30.5px;border-radius:2.2px;background:#e9f8f6"></div><div class="abs" style="left:861.9px;top:791.9px;width:4.4px;height:2px;border-radius:1.0px;background:#4ec5bd"></div><div class="abs" style="left:868.2px;top:763.4px;width:4.4px;height:30.5px;border-radius:2.2px;background:#fef2ea"></div><div class="abs" style="left:874.5px;top:763.4px;width:4.4px;height:30.5px;border-radius:2.2px;background:#feeef6"></div><div class="abs" style="left:880.8px;top:763.4px;width:4.4px;height:30.5px;border-radius:2.2px;background:#ecf1fe"></div><div class="abs" style="left:880.8px;top:782.9px;width:4.4px;height:11px;border-radius:2.2px;background:#5b8cf2"></div><div class="t big" style="left:953px;width:120px;top:758.2px">10.3K</div><div class="t sub" style="left:880px;width:193px;top:784.6px;text-align:right;word-spacing:0">12K vie.<span style="display:inline-block;width:16px"></span>03:14s<span style="display:inline-block;width:16px"></span>61 RFV</div><div id="f49" class="t blur" style="left:461.4px;top:815.5px;;letter-spacing:0.988px">El TSXG condena al Sergas a indemnizar con 300.000</div><div id="f50" class="t blur" style="left:461.4px;top:827.3px;;letter-spacing:0.936px">euros a la familia de una mujer que falleci&oacute; al dar a luz...</div><div class="abs" style="left:401px;top:813.8px;width:55px;height:37.4px;filter:blur(2.2px);background:radial-gradient(ellipse 58% 58% at 50% 50%,#565751 0,#62635e 60%,transparent 100%),linear-gradient(180deg,#8a8a86,#7d7d79)"></div><div id="f51" class="t blur2" style="left:477.3px;top:843.8px;;letter-spacing:-0.062px">Santiago Garabatos</div><svg class="abs" style="left:462px;top:842.8px" width="7.6" height="9.4" viewBox="0 0 10 13"><rect x="0.8" y="5.4" width="8.4" height="6.8" rx="1.2" fill="#7b8296"/><path d="M2.6,6V3.8a2.4,2.4 0 0 1 4.8,0V6" fill="none" stroke="#7b8296" stroke-width="1.3"/></svg><div class="t " style="left:563.7px;top:842.6999999999999px;font-size:9.5px;color:#868c9e">1d</div><div class="abs" style="left:855.6px;top:821.6px;width:4.4px;height:30.5px;border-radius:2.2px;background:#fef7ea"></div><div class="abs" style="left:855.6px;top:851.1px;width:4.4px;height:1px;border-radius:0.5px;background:#f6b84a"></div><div class="abs" style="left:861.9px;top:821.6px;width:4.4px;height:30.5px;border-radius:2.2px;background:#e9f8f6"></div><div class="abs" style="left:861.9px;top:826.1px;width:4.4px;height:26px;border-radius:2.2px;background:#4ec5bd"></div><div class="abs" style="left:868.2px;top:821.6px;width:4.4px;height:30.5px;border-radius:2.2px;background:#fef2ea"></div><div class="abs" style="left:874.5px;top:821.6px;width:4.4px;height:30.5px;border-radius:2.2px;background:#feeef6"></div><div class="abs" style="left:874.5px;top:851.1px;width:4.4px;height:1px;border-radius:0.5px;background:#f088c6"></div><div class="abs" style="left:880.8px;top:821.6px;width:4.4px;height:30.5px;border-radius:2.2px;background:#ecf1fe"></div><div class="abs" style="left:880.8px;top:850.1px;width:4.4px;height:2px;border-radius:1.0px;background:#5b8cf2"></div><div class="t big" style="left:953px;width:120px;top:817.4px">7.6K</div><div class="t sub" style="left:880px;width:193px;top:843.6px;text-align:right;word-spacing:0">8.1K vie.<span style="display:inline-block;width:16px"></span>00:45s<span style="display:inline-block;width:16px"></span>58 RFV</div><div id="f52" class="t blur" style="left:461.4px;top:873.1px;;letter-spacing:0.949px">Sentido adi&oacute;s a Ana Noya, la nodr&oacute;loga del CHOP a la</div><div id="f53" class="t blur" style="left:461.4px;top:884.9px;;letter-spacing:1.233px">que adoraban los residentes</div><div class="abs" style="left:401px;top:872.0px;width:55px;height:37.4px;filter:blur(2.2px);background:radial-gradient(ellipse 28% 60% at 62% 60%,#a68274 0,transparent 100%),linear-gradient(90deg,#c6c4be,#b3b1aa 60%,#bdbab4)"></div><div class="abs" style="left:855.6px;top:879.8px;width:4.4px;height:30.5px;border-radius:2.2px;background:#fef7ea"></div><div class="abs" style="left:861.9px;top:879.8px;width:4.4px;height:30.5px;border-radius:2.2px;background:#e9f8f6"></div><div class="abs" style="left:861.9px;top:906.3px;width:4.4px;height:4px;border-radius:2.0px;background:#4ec5bd"></div><div class="abs" style="left:868.2px;top:879.8px;width:4.4px;height:30.5px;border-radius:2.2px;background:#fef2ea"></div><div class="abs" style="left:874.5px;top:879.8px;width:4.4px;height:30.5px;border-radius:2.2px;background:#feeef6"></div><div class="abs" style="left:880.8px;top:879.8px;width:4.4px;height:30.5px;border-radius:2.2px;background:#ecf1fe"></div><div class="t big" style="left:953px;width:120px;top:874.6px">6K</div><div id="f54" class="t lbl" style="left:1145.4px;top:582px;;letter-spacing:-0.362px">USER JOURNEY</div><svg class="abs" style="left:1332px;top:584.5px" width="11" height="4" viewBox="0 0 11 4"><circle cx="1.6" cy="2" r="1.15" fill="#8b92a5"/><circle cx="5.5" cy="2" r="1.15" fill="#8b92a5"/><circle cx="9.4" cy="2" r="1.15" fill="#8b92a5"/></svg><div class="bar" style="left:1146px;top:606.6px;width:205.0px;height:18.4px;background:#5b8cf2"></div><div id="f55" class="t rowl" style="left:1151.8px;top:610.1px;;letter-spacing:0.003px">Anonymous</div><div class="t rowv" style="left:1294px;width:50px;top:611.2px;color:#1e2230;font-size:9.3px">100%</div><div class="bar" style="left:1146px;top:628.8px;width:5px;height:18.4px;background:#ececf0"></div><div id="f56" class="t rowl" style="left:1151.8px;top:632.3000000000001px;;letter-spacing:-0.043px">Registered</div><div class="bar" style="left:1146px;top:651.0px;width:5px;height:18.4px;background:#ececf0"></div><div id="f57" class="t rowl" style="left:1151.8px;top:654.5px;;letter-spacing:-0.061px">Subscriber</div><div class="bar" style="left:1146px;top:673.2px;width:5px;height:18.4px;background:#ececf0"></div><div id="f58" class="t rowl" style="left:1151.8px;top:676.7px;;letter-spacing:-0.067px">Ex-Susbscriber</div><div id="f59" class="t lbl" style="left:1145.4px;top:719px;;letter-spacing:-0.190px">AUDIENCE LOYALTY FUNNEL</div><svg class="abs" style="left:1332px;top:721.5px" width="11" height="4" viewBox="0 0 11 4"><circle cx="1.6" cy="2" r="1.15" fill="#8b92a5"/><circle cx="5.5" cy="2" r="1.15" fill="#8b92a5"/><circle cx="9.4" cy="2" r="1.15" fill="#8b92a5"/></svg><div class="bar" style="left:1146px;top:742.8px;width:5px;height:18.4px;background:#ececf0"></div><div id="f60" class="t rowl" style="left:1151.8px;top:747.6999999999999px;;letter-spacing:-0.286px">New</div><div class="bar" style="left:1146px;top:764.9px;width:5px;height:18.4px;background:#ececf0"></div><div id="f61" class="t rowl" style="left:1151.8px;top:769.8px;;letter-spacing:-0.645px">Fly By</div><div class="bar" style="left:1146px;top:787.0px;width:5px;height:18.4px;background:#ececf0"></div><div id="f62" class="t rowl" style="left:1151.8px;top:791.9px;;letter-spacing:0.241px">Casual</div><div class="bar" style="left:1146px;top:809.1px;width:116.5px;height:18.4px;background:#5b8cf2"></div><div id="f63" class="t rowl" style="left:1151.8px;top:813.9999999999999px;;letter-spacing:-0.307px">Loyal</div><div class="t rowv" style="left:1294px;width:50px;top:814.4px;color:#1e2230;font-size:9.3px">57%</div><div class="bar" style="left:1146px;top:831.2px;width:88.0px;height:18.4px;background:#5b8cf2"></div><div id="f64" class="t rowl" style="left:1151.8px;top:836.0999999999999px;;letter-spacing:-0.510px">Lover</div><div class="t rowv" style="left:1294px;width:50px;top:836.5px;color:#1e2230;font-size:9.3px">43%</div><div class="bar" style="left:1146px;top:853.3px;width:5px;height:18.4px;background:#ececf0"></div><div id="f65" class="t rowl" style="left:1151.8px;top:858.1999999999999px;;letter-spacing:-0.027px">Private</div><svg class="abs" style="left:0;top:0" width="1440" height="900" viewBox="0 0 1440 900" fill="none" stroke="#f7931e" stroke-width="1.9"><path d="M384,76.2 H246.3 V777.3 H384"/><path d="M388,136.2 H310.4 V708.2 H384"/><rect x="388.25" y="678.7" width="731.9" height="60.8"/><rect x="388.25" y="748" width="731.9" height="60.4"/><circle cx="383.7" cy="76.2" r="4.3" fill="#f7931e" stroke="none"/><circle cx="388.4" cy="134.6" r="4.3" fill="#f7931e" stroke="none"/><circle cx="383.3" cy="708.4" r="4.3" fill="#f7931e" stroke="none"/><circle cx="383.3" cy="777.3" r="4.3" fill="#f7931e" stroke="none"/></svg></body></html>
